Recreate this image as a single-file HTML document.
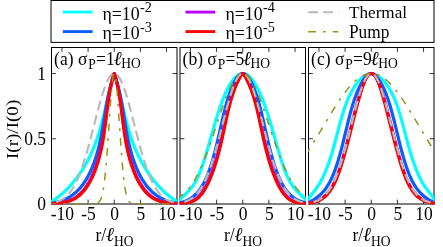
<!DOCTYPE html><html><head><meta charset="utf-8"><title>fig</title><style>html,body{margin:0;padding:0;background:#fff}svg{display:block;will-change:transform}text{font-family:"Liberation Serif",serif;fill:#000}</style></head><body>
<svg width="443" height="247" viewBox="0 0 443 247">
<rect width="443" height="247" fill="#fff"/>
<defs>
<clipPath id="cp0"><rect x="51.00" y="47.00" width="126.50" height="157.50"/></clipPath>
<clipPath id="cp1"><rect x="179.50" y="47.00" width="126.50" height="157.50"/></clipPath>
<clipPath id="cp2"><rect x="308.00" y="47.00" width="126.50" height="157.50"/></clipPath>
</defs>
<rect x="51.50" y="47.50" width="125.50" height="156.50" fill="none" stroke="#000" stroke-width="1.00"/>
<path d="M61.96 204.00v-4.40 M61.96 47.50v4.40 M88.10 204.00v-4.40 M88.10 47.50v4.40 M114.25 204.00v-4.40 M114.25 47.50v4.40 M140.40 204.00v-4.40 M140.40 47.50v4.40 M166.54 204.00v-4.40 M166.54 47.50v4.40 M51.50 138.75h4.40 M177.00 138.75h-4.40 M51.50 73.55h4.40 M177.00 73.55h-4.40 " stroke="#000" stroke-width="0.8" fill="none"/>
<rect x="180.00" y="47.50" width="125.50" height="156.50" fill="none" stroke="#000" stroke-width="1.00"/>
<path d="M190.46 204.00v-4.40 M190.46 47.50v4.40 M216.60 204.00v-4.40 M216.60 47.50v4.40 M242.75 204.00v-4.40 M242.75 47.50v4.40 M268.90 204.00v-4.40 M268.90 47.50v4.40 M295.04 204.00v-4.40 M295.04 47.50v4.40 M180.00 138.75h4.40 M305.50 138.75h-4.40 M180.00 73.55h4.40 M305.50 73.55h-4.40 " stroke="#000" stroke-width="0.8" fill="none"/>
<rect x="308.50" y="47.50" width="125.50" height="156.50" fill="none" stroke="#000" stroke-width="1.00"/>
<path d="M318.96 204.00v-4.40 M318.96 47.50v4.40 M345.10 204.00v-4.40 M345.10 47.50v4.40 M371.25 204.00v-4.40 M371.25 47.50v4.40 M397.40 204.00v-4.40 M397.40 47.50v4.40 M423.54 204.00v-4.40 M423.54 47.50v4.40 M308.50 138.75h4.40 M434.00 138.75h-4.40 M308.50 73.55h4.40 M434.00 73.55h-4.40 " stroke="#000" stroke-width="0.8" fill="none"/>
<g clip-path="url(#cp0)" fill="none" stroke-linejoin="round">
<path d="M40.67,203.80 L40.98,203.78 L41.29,203.77 L41.60,203.75 L41.92,203.73 L42.23,203.71 L42.54,203.69 L42.85,203.67 L43.17,203.64 L43.48,203.61 L43.79,203.58 L44.10,203.55 L44.42,203.52 L44.73,203.48 L45.04,203.44 L45.35,203.39 L45.67,203.34 L45.98,203.29 L46.29,203.24 L46.60,203.18 L46.92,203.11 L47.23,203.04 L47.54,202.97 L47.85,202.89 L48.17,202.81 L48.48,202.72 L48.79,202.62 L49.10,202.51 L49.42,202.40 L49.73,202.28 L50.04,202.16 L50.35,202.02 L50.67,201.88 L50.98,201.73 L51.29,201.56 L51.60,201.39 L51.91,201.20 L52.24,201.01 L52.59,200.80 L52.95,200.58 L53.33,200.34 L53.73,200.09 L54.14,199.83 L54.57,199.55 L55.01,199.26 L55.47,198.95 L55.95,198.62 L56.44,198.28 L56.95,197.91 L57.47,197.53 L58.01,197.13 L58.57,196.70 L59.14,196.26 L59.72,195.79 L60.33,195.30 L60.94,194.78 L61.57,194.24 L62.22,193.68 L62.88,193.09 L63.56,192.47 L64.25,191.82 L64.96,191.15 L65.68,190.45 L66.42,189.71 L67.17,188.95 L67.93,188.16 L68.71,187.33 L69.51,186.47 L70.32,185.58 L71.14,184.66 L71.97,183.70 L72.82,182.71 L73.68,181.68 L74.54,180.62 L75.42,179.52 L76.30,178.38 L77.19,177.22 L78.08,176.01 L78.97,174.77 L79.87,173.49 L80.77,172.17 L81.66,170.82 L82.56,169.44 L83.45,168.01 L84.34,166.56 L85.22,165.07 L86.09,163.54 L86.96,161.98 L87.82,160.38 L88.67,158.76 L89.50,157.10 L90.33,155.41 L91.14,153.69 L91.93,151.95 L92.71,150.18 L93.47,148.38 L94.21,146.55 L94.93,144.71 L95.63,142.84 L96.32,140.95 L96.98,139.05 L97.62,137.13 L98.25,135.19 L98.86,133.24 L99.45,131.29 L100.02,129.32 L100.58,127.35 L101.13,125.38 L101.66,123.41 L102.17,121.43 L102.67,119.47 L103.16,117.51 L103.64,115.55 L104.10,113.62 L104.55,111.69 L105.00,109.79 L105.43,107.90 L105.85,106.04 L106.26,104.20 L106.67,102.39 L106.86,101.54 L107.05,100.69 L107.23,99.85 L107.42,99.01 L107.61,98.19 L107.79,97.37 L107.97,96.57 L108.15,95.77 L108.33,94.98 L108.50,94.20 L108.68,93.44 L108.85,92.68 L109.02,91.93 L109.19,91.20 L109.36,90.48 L109.53,89.77 L109.69,89.07 L109.85,88.38 L110.01,87.71 L110.17,87.04 L110.32,86.40 L110.48,85.76 L110.63,85.14 L110.78,84.53 L110.93,83.94 L111.07,83.36 L111.21,82.80 L111.35,82.25 L111.49,81.71 L111.62,81.19 L111.76,80.69 L111.89,80.20 L112.01,79.73 L112.14,79.27 L112.26,78.83 L112.38,78.41 L112.49,78.00 L112.61,77.62 L112.72,77.24 L112.82,76.89 L112.93,76.55 L113.03,76.23 L113.13,75.93 L113.22,75.64 L113.32,75.37 L113.40,75.12 L113.49,74.89 L113.57,74.68 L113.65,74.48 L113.73,74.31 L113.80,74.15 L113.87,74.01 L113.93,73.89 L114.00,73.78 L114.05,73.70 L114.11,73.63 L114.16,73.59 L114.21,73.56 L114.25,73.55 L114.29,73.56 L114.34,73.59 L114.39,73.63 L114.45,73.70 L114.50,73.78 L114.57,73.89 L114.63,74.01 L114.70,74.15 L114.77,74.31 L114.85,74.48 L114.93,74.68 L115.01,74.89 L115.10,75.12 L115.18,75.37 L115.28,75.64 L115.37,75.93 L115.47,76.23 L115.57,76.55 L115.68,76.89 L115.78,77.24 L115.89,77.62 L116.01,78.00 L116.12,78.41 L116.24,78.83 L116.36,79.27 L116.49,79.73 L116.61,80.20 L116.74,80.69 L116.88,81.19 L117.01,81.71 L117.15,82.25 L117.29,82.80 L117.43,83.36 L117.57,83.94 L117.72,84.53 L117.87,85.14 L118.02,85.76 L118.18,86.40 L118.33,87.04 L118.49,87.71 L118.65,88.38 L118.81,89.07 L118.97,89.77 L119.14,90.48 L119.31,91.20 L119.48,91.93 L119.65,92.68 L119.82,93.44 L120.00,94.20 L120.17,94.98 L120.35,95.77 L120.53,96.57 L120.71,97.37 L120.89,98.19 L121.08,99.01 L121.27,99.85 L121.45,100.69 L121.64,101.54 L121.83,102.39 L122.24,104.20 L122.65,106.04 L123.07,107.90 L123.50,109.79 L123.95,111.69 L124.40,113.62 L124.86,115.55 L125.34,117.51 L125.83,119.47 L126.33,121.43 L126.84,123.41 L127.37,125.38 L127.92,127.35 L128.48,129.32 L129.05,131.29 L129.64,133.24 L130.25,135.19 L130.88,137.13 L131.52,139.05 L132.18,140.95 L132.87,142.84 L133.57,144.71 L134.29,146.55 L135.03,148.38 L135.79,150.18 L136.57,151.95 L137.36,153.69 L138.17,155.41 L139.00,157.10 L139.83,158.76 L140.68,160.38 L141.54,161.98 L142.41,163.54 L143.28,165.07 L144.16,166.56 L145.05,168.01 L145.94,169.44 L146.84,170.82 L147.73,172.17 L148.63,173.49 L149.53,174.77 L150.42,176.01 L151.31,177.22 L152.20,178.38 L153.08,179.52 L153.96,180.62 L154.82,181.68 L155.68,182.71 L156.53,183.70 L157.36,184.66 L158.18,185.58 L158.99,186.47 L159.79,187.33 L160.57,188.16 L161.33,188.95 L162.08,189.71 L162.82,190.45 L163.54,191.15 L164.25,191.82 L164.94,192.47 L165.62,193.09 L166.28,193.68 L166.93,194.24 L167.56,194.78 L168.17,195.30 L168.78,195.79 L169.36,196.26 L169.93,196.70 L170.49,197.13 L171.03,197.53 L171.55,197.91 L172.06,198.28 L172.55,198.62 L173.03,198.95 L173.49,199.26 L173.93,199.55 L174.36,199.83 L174.77,200.09 L175.17,200.34 L175.55,200.58 L175.91,200.80 L176.26,201.01 L176.59,201.20 L176.90,201.39 L177.21,201.56 L177.52,201.73 L177.83,201.88 L178.15,202.02 L178.46,202.16 L178.77,202.28 L179.08,202.40 L179.40,202.51 L179.71,202.62 L180.02,202.72 L180.33,202.81 L180.65,202.89 L180.96,202.97 L181.27,203.04 L181.58,203.11 L181.90,203.18 L182.21,203.24 L182.52,203.29 L182.83,203.34 L183.15,203.39 L183.46,203.44 L183.77,203.48 L184.08,203.52 L184.40,203.55 L184.71,203.58 L185.02,203.61 L185.33,203.64 L185.65,203.67 L185.96,203.69 L186.27,203.71 L186.58,203.73 L186.90,203.75 L187.21,203.77 L187.52,203.78 L187.83,203.80" stroke="#00ffff" stroke-width="3.2"/>
<path d="M46.26,203.80 L46.58,203.78 L46.89,203.77 L47.21,203.75 L47.52,203.73 L47.83,203.71 L48.15,203.69 L48.46,203.67 L48.78,203.64 L49.09,203.61 L49.40,203.58 L49.72,203.55 L50.03,203.52 L50.35,203.48 L50.66,203.44 L50.97,203.39 L51.29,203.34 L51.60,203.29 L51.91,203.24 L52.23,203.18 L52.57,203.11 L52.93,203.04 L53.31,202.97 L53.71,202.89 L54.12,202.81 L54.55,202.72 L54.99,202.62 L55.45,202.51 L55.93,202.40 L56.42,202.28 L56.92,202.16 L57.44,202.02 L57.97,201.88 L58.51,201.73 L59.07,201.56 L59.64,201.39 L60.22,201.20 L60.81,201.01 L61.41,200.80 L62.02,200.58 L62.64,200.34 L63.27,200.09 L63.90,199.83 L64.55,199.55 L65.20,199.26 L65.86,198.95 L66.53,198.62 L67.21,198.28 L67.89,197.91 L68.57,197.53 L69.26,197.13 L69.96,196.70 L70.66,196.26 L71.36,195.79 L72.07,195.30 L72.78,194.78 L73.49,194.24 L74.20,193.68 L74.92,193.09 L75.63,192.47 L76.35,191.82 L77.07,191.15 L77.78,190.45 L78.50,189.71 L79.21,188.95 L79.93,188.16 L80.64,187.33 L81.34,186.47 L82.05,185.58 L82.75,184.66 L83.45,183.70 L84.14,182.71 L84.83,181.68 L85.51,180.62 L86.19,179.52 L86.86,178.38 L87.52,177.22 L88.18,176.01 L88.83,174.77 L89.48,173.49 L90.11,172.17 L90.74,170.82 L91.36,169.44 L91.97,168.01 L92.57,166.56 L93.16,165.07 L93.74,163.54 L94.31,161.98 L94.87,160.38 L95.41,158.76 L95.95,157.10 L96.47,155.41 L96.98,153.69 L97.48,151.95 L97.96,150.18 L98.43,148.38 L98.89,146.55 L99.33,144.71 L99.76,142.84 L100.17,140.95 L100.57,139.05 L100.96,137.13 L101.34,135.19 L101.71,133.24 L102.07,131.29 L102.42,129.32 L102.76,127.35 L103.10,125.38 L103.44,123.41 L103.76,121.43 L104.09,119.47 L104.41,117.51 L104.73,115.55 L105.05,113.62 L105.36,111.69 L105.68,109.79 L106.00,107.90 L106.32,106.04 L106.65,104.20 L106.98,102.39 L107.14,101.54 L107.30,100.69 L107.46,99.85 L107.63,99.01 L107.79,98.19 L107.96,97.37 L108.13,96.57 L108.30,95.77 L108.47,94.98 L108.64,94.20 L108.81,93.44 L108.99,92.68 L109.16,91.93 L109.34,91.20 L109.51,90.48 L109.69,89.77 L109.86,89.07 L110.03,88.38 L110.21,87.71 L110.38,87.04 L110.55,86.40 L110.72,85.76 L110.89,85.14 L111.06,84.53 L111.22,83.94 L111.38,83.36 L111.54,82.80 L111.70,82.25 L111.86,81.71 L112.01,81.19 L112.16,80.69 L112.30,80.20 L112.44,79.73 L112.58,79.27 L112.72,78.83 L112.85,78.41 L112.97,78.00 L113.09,77.62 L113.21,77.24 L113.32,76.89 L113.43,76.55 L113.53,76.23 L113.63,75.93 L113.72,75.64 L113.80,75.37 L113.88,75.12 L113.95,74.89 L114.02,74.68 L114.08,74.48 L114.13,74.31 L114.17,74.15 L114.21,74.01 L114.24,73.89 L114.25,73.78 L114.25,73.70 L114.25,73.63 L114.25,73.59 L114.25,73.56 L114.25,73.55 L114.25,73.56 L114.25,73.59 L114.25,73.63 L114.25,73.70 L114.25,73.78 L114.26,73.89 L114.29,74.01 L114.33,74.15 L114.37,74.31 L114.42,74.48 L114.48,74.68 L114.55,74.89 L114.62,75.12 L114.70,75.37 L114.78,75.64 L114.87,75.93 L114.97,76.23 L115.07,76.55 L115.18,76.89 L115.29,77.24 L115.41,77.62 L115.53,78.00 L115.65,78.41 L115.78,78.83 L115.92,79.27 L116.06,79.73 L116.20,80.20 L116.34,80.69 L116.49,81.19 L116.64,81.71 L116.80,82.25 L116.96,82.80 L117.12,83.36 L117.28,83.94 L117.44,84.53 L117.61,85.14 L117.78,85.76 L117.95,86.40 L118.12,87.04 L118.29,87.71 L118.47,88.38 L118.64,89.07 L118.81,89.77 L118.99,90.48 L119.16,91.20 L119.34,91.93 L119.51,92.68 L119.69,93.44 L119.86,94.20 L120.03,94.98 L120.20,95.77 L120.37,96.57 L120.54,97.37 L120.71,98.19 L120.87,99.01 L121.04,99.85 L121.20,100.69 L121.36,101.54 L121.52,102.39 L121.85,104.20 L122.18,106.04 L122.50,107.90 L122.82,109.79 L123.14,111.69 L123.45,113.62 L123.77,115.55 L124.09,117.51 L124.41,119.47 L124.74,121.43 L125.06,123.41 L125.40,125.38 L125.74,127.35 L126.08,129.32 L126.43,131.29 L126.79,133.24 L127.16,135.19 L127.54,137.13 L127.93,139.05 L128.33,140.95 L128.74,142.84 L129.17,144.71 L129.61,146.55 L130.07,148.38 L130.54,150.18 L131.02,151.95 L131.52,153.69 L132.03,155.41 L132.55,157.10 L133.09,158.76 L133.63,160.38 L134.19,161.98 L134.76,163.54 L135.34,165.07 L135.93,166.56 L136.53,168.01 L137.14,169.44 L137.76,170.82 L138.39,172.17 L139.02,173.49 L139.67,174.77 L140.32,176.01 L140.98,177.22 L141.64,178.38 L142.31,179.52 L142.99,180.62 L143.67,181.68 L144.36,182.71 L145.05,183.70 L145.75,184.66 L146.45,185.58 L147.16,186.47 L147.86,187.33 L148.57,188.16 L149.29,188.95 L150.00,189.71 L150.72,190.45 L151.43,191.15 L152.15,191.82 L152.87,192.47 L153.58,193.09 L154.30,193.68 L155.01,194.24 L155.72,194.78 L156.43,195.30 L157.14,195.79 L157.84,196.26 L158.54,196.70 L159.24,197.13 L159.93,197.53 L160.61,197.91 L161.29,198.28 L161.97,198.62 L162.64,198.95 L163.30,199.26 L163.95,199.55 L164.60,199.83 L165.23,200.09 L165.86,200.34 L166.48,200.58 L167.09,200.80 L167.69,201.01 L168.28,201.20 L168.86,201.39 L169.43,201.56 L169.99,201.73 L170.53,201.88 L171.06,202.02 L171.58,202.16 L172.08,202.28 L172.57,202.40 L173.05,202.51 L173.51,202.62 L173.95,202.72 L174.38,202.81 L174.79,202.89 L175.19,202.97 L175.57,203.04 L175.93,203.11 L176.27,203.18 L176.59,203.24 L176.90,203.29 L177.21,203.34 L177.53,203.39 L177.84,203.44 L178.15,203.48 L178.47,203.52 L178.78,203.55 L179.10,203.58 L179.41,203.61 L179.72,203.64 L180.04,203.67 L180.35,203.69 L180.67,203.71 L180.98,203.73 L181.29,203.75 L181.61,203.77 L181.92,203.78 L182.24,203.80" stroke="#0a5cff" stroke-width="3.2"/>
<path d="M47.82,203.80 L48.35,203.78 L48.87,203.77 L49.40,203.75 L49.92,203.73 L50.45,203.71 L50.97,203.69 L51.50,203.67 L52.02,203.64 L52.55,203.61 L53.08,203.58 L53.61,203.55 L54.14,203.52 L54.67,203.48 L55.20,203.44 L55.74,203.39 L56.27,203.34 L56.81,203.29 L57.34,203.24 L57.88,203.18 L58.43,203.11 L58.98,203.04 L59.53,202.97 L60.08,202.89 L60.64,202.81 L61.20,202.72 L61.76,202.62 L62.33,202.51 L62.90,202.40 L63.47,202.28 L64.04,202.16 L64.62,202.02 L65.20,201.88 L65.78,201.73 L66.37,201.56 L66.96,201.39 L67.54,201.20 L68.13,201.01 L68.73,200.80 L69.32,200.58 L69.92,200.34 L70.51,200.09 L71.11,199.83 L71.71,199.55 L72.31,199.26 L72.92,198.95 L73.52,198.62 L74.12,198.28 L74.73,197.91 L75.34,197.53 L75.94,197.13 L76.55,196.70 L77.15,196.26 L77.76,195.79 L78.37,195.30 L78.98,194.78 L79.58,194.24 L80.19,193.68 L80.80,193.09 L81.40,192.47 L82.01,191.82 L82.62,191.15 L83.22,190.45 L83.82,189.71 L84.43,188.95 L85.03,188.16 L85.63,187.33 L86.23,186.47 L86.83,185.58 L87.42,184.66 L88.02,183.70 L88.61,182.71 L89.20,181.68 L89.79,180.62 L90.37,179.52 L90.95,178.38 L91.52,177.22 L92.09,176.01 L92.65,174.77 L93.21,173.49 L93.76,172.17 L94.31,170.82 L94.84,169.44 L95.37,168.01 L95.89,166.56 L96.41,165.07 L96.91,163.54 L97.40,161.98 L97.89,160.38 L98.36,158.76 L98.82,157.10 L99.27,155.41 L99.71,153.69 L100.14,151.95 L100.55,150.18 L100.95,148.38 L101.34,146.55 L101.72,144.71 L102.08,142.84 L102.42,140.95 L102.76,139.05 L103.08,137.13 L103.40,135.19 L103.70,133.24 L104.00,131.29 L104.28,129.32 L104.56,127.35 L104.84,125.38 L105.11,123.41 L105.37,121.43 L105.63,119.47 L105.88,117.51 L106.14,115.55 L106.39,113.62 L106.64,111.69 L106.90,109.79 L107.15,107.90 L107.40,106.04 L107.66,104.20 L107.92,102.39 L108.05,101.54 L108.17,100.69 L108.30,99.85 L108.43,99.01 L108.56,98.19 L108.70,97.37 L108.83,96.57 L108.97,95.77 L109.10,94.98 L109.24,94.20 L109.38,93.44 L109.52,92.68 L109.66,91.93 L109.80,91.20 L109.94,90.48 L110.08,89.77 L110.22,89.07 L110.36,88.38 L110.50,87.71 L110.64,87.04 L110.78,86.40 L110.92,85.76 L111.06,85.14 L111.20,84.53 L111.33,83.94 L111.47,83.36 L111.60,82.80 L111.73,82.25 L111.86,81.71 L111.99,81.19 L112.12,80.69 L112.24,80.20 L112.36,79.73 L112.48,79.27 L112.60,78.83 L112.71,78.41 L112.82,78.00 L112.93,77.62 L113.03,77.24 L113.14,76.89 L113.23,76.55 L113.33,76.23 L113.42,75.93 L113.51,75.64 L113.59,75.37 L113.67,75.12 L113.74,74.89 L113.81,74.68 L113.88,74.48 L113.94,74.31 L114.00,74.15 L114.05,74.01 L114.09,73.89 L114.13,73.78 L114.16,73.70 L114.19,73.63 L114.22,73.59 L114.23,73.56 L114.25,73.55 L114.27,73.56 L114.28,73.59 L114.31,73.63 L114.34,73.70 L114.37,73.78 L114.41,73.89 L114.45,74.01 L114.50,74.15 L114.56,74.31 L114.62,74.48 L114.69,74.68 L114.76,74.89 L114.83,75.12 L114.91,75.37 L114.99,75.64 L115.08,75.93 L115.17,76.23 L115.27,76.55 L115.36,76.89 L115.47,77.24 L115.57,77.62 L115.68,78.00 L115.79,78.41 L115.90,78.83 L116.02,79.27 L116.14,79.73 L116.26,80.20 L116.38,80.69 L116.51,81.19 L116.64,81.71 L116.77,82.25 L116.90,82.80 L117.03,83.36 L117.17,83.94 L117.30,84.53 L117.44,85.14 L117.58,85.76 L117.72,86.40 L117.86,87.04 L118.00,87.71 L118.14,88.38 L118.28,89.07 L118.42,89.77 L118.56,90.48 L118.70,91.20 L118.84,91.93 L118.98,92.68 L119.12,93.44 L119.26,94.20 L119.40,94.98 L119.53,95.77 L119.67,96.57 L119.80,97.37 L119.94,98.19 L120.07,99.01 L120.20,99.85 L120.33,100.69 L120.45,101.54 L120.58,102.39 L120.84,104.20 L121.10,106.04 L121.35,107.90 L121.60,109.79 L121.86,111.69 L122.11,113.62 L122.36,115.55 L122.62,117.51 L122.87,119.47 L123.13,121.43 L123.39,123.41 L123.66,125.38 L123.94,127.35 L124.22,129.32 L124.50,131.29 L124.80,133.24 L125.10,135.19 L125.42,137.13 L125.74,139.05 L126.08,140.95 L126.42,142.84 L126.78,144.71 L127.16,146.55 L127.55,148.38 L127.95,150.18 L128.36,151.95 L128.79,153.69 L129.23,155.41 L129.68,157.10 L130.14,158.76 L130.61,160.38 L131.10,161.98 L131.59,163.54 L132.09,165.07 L132.61,166.56 L133.13,168.01 L133.66,169.44 L134.19,170.82 L134.74,172.17 L135.29,173.49 L135.85,174.77 L136.41,176.01 L136.98,177.22 L137.55,178.38 L138.13,179.52 L138.71,180.62 L139.30,181.68 L139.89,182.71 L140.48,183.70 L141.08,184.66 L141.67,185.58 L142.27,186.47 L142.87,187.33 L143.47,188.16 L144.07,188.95 L144.68,189.71 L145.28,190.45 L145.88,191.15 L146.49,191.82 L147.10,192.47 L147.70,193.09 L148.31,193.68 L148.92,194.24 L149.52,194.78 L150.13,195.30 L150.74,195.79 L151.35,196.26 L151.95,196.70 L152.56,197.13 L153.16,197.53 L153.77,197.91 L154.38,198.28 L154.98,198.62 L155.58,198.95 L156.19,199.26 L156.79,199.55 L157.39,199.83 L157.99,200.09 L158.58,200.34 L159.18,200.58 L159.77,200.80 L160.37,201.01 L160.96,201.20 L161.54,201.39 L162.13,201.56 L162.72,201.73 L163.30,201.88 L163.88,202.02 L164.46,202.16 L165.03,202.28 L165.60,202.40 L166.17,202.51 L166.74,202.62 L167.30,202.72 L167.86,202.81 L168.42,202.89 L168.97,202.97 L169.52,203.04 L170.07,203.11 L170.62,203.18 L171.16,203.24 L171.69,203.29 L172.23,203.34 L172.76,203.39 L173.30,203.44 L173.83,203.48 L174.36,203.52 L174.89,203.55 L175.42,203.58 L175.95,203.61 L176.48,203.64 L177.00,203.67 L177.53,203.69 L178.05,203.71 L178.58,203.73 L179.10,203.75 L179.63,203.77 L180.15,203.78 L180.68,203.80" stroke="#b800ff" stroke-width="3.2"/>
<path d="M48.10,203.80 L48.66,203.78 L49.22,203.77 L49.79,203.75 L50.35,203.73 L50.91,203.71 L51.47,203.69 L52.03,203.67 L52.60,203.64 L53.16,203.61 L53.73,203.58 L54.29,203.55 L54.86,203.52 L55.43,203.48 L56.01,203.44 L56.58,203.39 L57.15,203.34 L57.73,203.29 L58.30,203.24 L58.88,203.18 L59.46,203.11 L60.04,203.04 L60.62,202.97 L61.20,202.89 L61.79,202.81 L62.37,202.72 L62.96,202.62 L63.54,202.51 L64.13,202.40 L64.71,202.28 L65.30,202.16 L65.89,202.02 L66.48,201.88 L67.07,201.73 L67.66,201.56 L68.25,201.39 L68.84,201.20 L69.43,201.01 L70.02,200.80 L70.61,200.58 L71.20,200.34 L71.79,200.09 L72.39,199.83 L72.98,199.55 L73.57,199.26 L74.16,198.95 L74.75,198.62 L75.35,198.28 L75.94,197.91 L76.53,197.53 L77.12,197.13 L77.71,196.70 L78.30,196.26 L78.89,195.79 L79.48,195.30 L80.07,194.78 L80.66,194.24 L81.25,193.68 L81.84,193.09 L82.42,192.47 L83.01,191.82 L83.59,191.15 L84.18,190.45 L84.76,189.71 L85.35,188.95 L85.93,188.16 L86.51,187.33 L87.09,186.47 L87.67,185.58 L88.25,184.66 L88.83,183.70 L89.40,182.71 L89.97,181.68 L90.54,180.62 L91.11,179.52 L91.67,178.38 L92.23,177.22 L92.78,176.01 L93.33,174.77 L93.87,173.49 L94.41,172.17 L94.94,170.82 L95.46,169.44 L95.97,168.01 L96.48,166.56 L96.98,165.07 L97.47,163.54 L97.95,161.98 L98.42,160.38 L98.88,158.76 L99.33,157.10 L99.77,155.41 L100.19,153.69 L100.61,151.95 L101.01,150.18 L101.40,148.38 L101.78,146.55 L102.14,144.71 L102.49,142.84 L102.82,140.95 L103.14,139.05 L103.46,137.13 L103.76,135.19 L104.05,133.24 L104.34,131.29 L104.61,129.32 L104.88,127.35 L105.14,125.38 L105.40,123.41 L105.65,121.43 L105.90,119.47 L106.15,117.51 L106.39,115.55 L106.63,113.62 L106.87,111.69 L107.11,109.79 L107.35,107.90 L107.59,106.04 L107.84,104.20 L108.09,102.39 L108.21,101.54 L108.33,100.69 L108.45,99.85 L108.58,99.01 L108.70,98.19 L108.83,97.37 L108.96,96.57 L109.08,95.77 L109.22,94.98 L109.35,94.20 L109.48,93.44 L109.61,92.68 L109.75,91.93 L109.88,91.20 L110.02,90.48 L110.15,89.77 L110.28,89.07 L110.42,88.38 L110.55,87.71 L110.69,87.04 L110.82,86.40 L110.96,85.76 L111.09,85.14 L111.22,84.53 L111.35,83.94 L111.48,83.36 L111.61,82.80 L111.74,82.25 L111.86,81.71 L111.99,81.19 L112.11,80.69 L112.23,80.20 L112.35,79.73 L112.46,79.27 L112.58,78.83 L112.69,78.41 L112.79,78.00 L112.90,77.62 L113.00,77.24 L113.10,76.89 L113.20,76.55 L113.29,76.23 L113.38,75.93 L113.47,75.64 L113.55,75.37 L113.63,75.12 L113.71,74.89 L113.78,74.68 L113.84,74.48 L113.91,74.31 L113.96,74.15 L114.02,74.01 L114.07,73.89 L114.11,73.78 L114.15,73.70 L114.18,73.63 L114.21,73.59 L114.23,73.56 L114.25,73.55 L114.27,73.56 L114.29,73.59 L114.32,73.63 L114.35,73.70 L114.39,73.78 L114.43,73.89 L114.48,74.01 L114.54,74.15 L114.59,74.31 L114.66,74.48 L114.72,74.68 L114.79,74.89 L114.87,75.12 L114.95,75.37 L115.03,75.64 L115.12,75.93 L115.21,76.23 L115.30,76.55 L115.40,76.89 L115.50,77.24 L115.60,77.62 L115.71,78.00 L115.81,78.41 L115.92,78.83 L116.04,79.27 L116.15,79.73 L116.27,80.20 L116.39,80.69 L116.51,81.19 L116.64,81.71 L116.76,82.25 L116.89,82.80 L117.02,83.36 L117.15,83.94 L117.28,84.53 L117.41,85.14 L117.54,85.76 L117.68,86.40 L117.81,87.04 L117.95,87.71 L118.08,88.38 L118.22,89.07 L118.35,89.77 L118.48,90.48 L118.62,91.20 L118.75,91.93 L118.89,92.68 L119.02,93.44 L119.15,94.20 L119.28,94.98 L119.42,95.77 L119.54,96.57 L119.67,97.37 L119.80,98.19 L119.92,99.01 L120.05,99.85 L120.17,100.69 L120.29,101.54 L120.41,102.39 L120.66,104.20 L120.91,106.04 L121.15,107.90 L121.39,109.79 L121.63,111.69 L121.87,113.62 L122.11,115.55 L122.35,117.51 L122.60,119.47 L122.85,121.43 L123.10,123.41 L123.36,125.38 L123.62,127.35 L123.89,129.32 L124.16,131.29 L124.45,133.24 L124.74,135.19 L125.04,137.13 L125.36,139.05 L125.68,140.95 L126.01,142.84 L126.36,144.71 L126.72,146.55 L127.10,148.38 L127.49,150.18 L127.89,151.95 L128.31,153.69 L128.73,155.41 L129.17,157.10 L129.62,158.76 L130.08,160.38 L130.55,161.98 L131.03,163.54 L131.52,165.07 L132.02,166.56 L132.53,168.01 L133.04,169.44 L133.56,170.82 L134.09,172.17 L134.63,173.49 L135.17,174.77 L135.72,176.01 L136.27,177.22 L136.83,178.38 L137.39,179.52 L137.96,180.62 L138.53,181.68 L139.10,182.71 L139.67,183.70 L140.25,184.66 L140.83,185.58 L141.41,186.47 L141.99,187.33 L142.57,188.16 L143.15,188.95 L143.74,189.71 L144.32,190.45 L144.91,191.15 L145.49,191.82 L146.08,192.47 L146.66,193.09 L147.25,193.68 L147.84,194.24 L148.43,194.78 L149.02,195.30 L149.61,195.79 L150.20,196.26 L150.79,196.70 L151.38,197.13 L151.97,197.53 L152.56,197.91 L153.15,198.28 L153.75,198.62 L154.34,198.95 L154.93,199.26 L155.52,199.55 L156.11,199.83 L156.71,200.09 L157.30,200.34 L157.89,200.58 L158.48,200.80 L159.07,201.01 L159.66,201.20 L160.25,201.39 L160.84,201.56 L161.43,201.73 L162.02,201.88 L162.61,202.02 L163.20,202.16 L163.79,202.28 L164.37,202.40 L164.96,202.51 L165.54,202.62 L166.13,202.72 L166.71,202.81 L167.30,202.89 L167.88,202.97 L168.46,203.04 L169.04,203.11 L169.62,203.18 L170.20,203.24 L170.77,203.29 L171.35,203.34 L171.92,203.39 L172.49,203.44 L173.07,203.48 L173.64,203.52 L174.21,203.55 L174.77,203.58 L175.34,203.61 L175.90,203.64 L176.47,203.67 L177.03,203.69 L177.59,203.71 L178.15,203.73 L178.71,203.75 L179.28,203.77 L179.84,203.78 L180.40,203.80" stroke="#ff0000" stroke-width="3.2"/>
<path d="M48.36,203.33 L49.15,203.25 L49.93,203.16 L50.72,203.05 L51.50,202.94 L52.28,202.81 L53.07,202.66 L53.85,202.50 L54.64,202.32 L55.42,202.13 L56.21,201.91 L56.99,201.67 L57.77,201.40 L58.56,201.11 L59.34,200.79 L60.13,200.43 L60.91,200.05 L61.70,199.63 L62.48,199.17 L63.27,198.67 L64.05,198.13 L64.83,197.54 L65.62,196.90 L66.40,196.21 L67.19,195.47 L67.97,194.66 L68.76,193.80 L69.54,192.88 L70.33,191.88 L71.11,190.82 L71.89,189.69 L72.68,188.48 L73.46,187.20 L74.25,185.84 L75.03,184.40 L75.82,182.87 L76.60,181.26 L77.38,179.56 L78.17,177.78 L78.95,175.91 L79.74,173.95 L80.52,171.90 L81.31,169.77 L82.09,167.54 L82.88,165.23 L83.66,162.84 L84.44,160.37 L85.23,157.82 L86.01,155.19 L86.80,152.49 L87.58,149.72 L88.37,146.89 L89.15,144.01 L89.93,141.07 L90.72,138.09 L91.50,135.07 L92.29,132.03 L93.07,128.96 L93.86,125.89 L94.64,122.80 L95.42,119.73 L96.21,116.67 L96.99,113.64 L97.78,110.64 L98.56,107.69 L99.35,104.80 L100.13,101.98 L100.92,99.23 L101.70,96.58 L102.48,94.02 L103.27,91.57 L104.05,89.25 L104.84,87.05 L105.62,84.99 L106.41,83.08 L107.19,81.33 L107.98,79.73 L108.76,78.31 L109.54,77.06 L110.33,76.00 L111.11,75.12 L111.90,74.44 L112.68,73.95 L113.47,73.65 L114.25,73.55 L115.03,73.65 L115.82,73.95 L116.60,74.44 L117.39,75.12 L118.17,76.00 L118.96,77.06 L119.74,78.31 L120.52,79.73 L121.31,81.33 L122.09,83.08 L122.88,84.99 L123.66,87.05 L124.45,89.25 L125.23,91.57 L126.02,94.02 L126.80,96.58 L127.58,99.23 L128.37,101.98 L129.15,104.80 L129.94,107.69 L130.72,110.64 L131.51,113.64 L132.29,116.67 L133.07,119.73 L133.86,122.80 L134.64,125.89 L135.43,128.96 L136.21,132.03 L137.00,135.07 L137.78,138.09 L138.57,141.07 L139.35,144.01 L140.13,146.89 L140.92,149.72 L141.70,152.49 L142.49,155.19 L143.27,157.82 L144.06,160.37 L144.84,162.84 L145.62,165.23 L146.41,167.54 L147.19,169.77 L147.98,171.90 L148.76,173.95 L149.55,175.91 L150.33,177.78 L151.12,179.56 L151.90,181.26 L152.68,182.87 L153.47,184.40 L154.25,185.84 L155.04,187.20 L155.82,188.48 L156.61,189.69 L157.39,190.82 L158.18,191.88 L158.96,192.88 L159.74,193.80 L160.53,194.66 L161.31,195.47 L162.10,196.21 L162.88,196.90 L163.67,197.54 L164.45,198.13 L165.23,198.67 L166.02,199.17 L166.80,199.63 L167.59,200.05 L168.37,200.43 L169.16,200.79 L169.94,201.11 L170.72,201.40 L171.51,201.67 L172.29,201.91 L173.08,202.13 L173.86,202.32 L174.65,202.50 L175.43,202.66 L176.22,202.81 L177.00,202.94 L177.78,203.05 L178.57,203.16 L179.35,203.25 L180.14,203.33" stroke="#b9b9b9" stroke-width="2.2" stroke-dasharray="9.9 5" stroke-dashoffset="7.01"/>
<path d="M48.36,203.95 L49.15,203.95 L49.93,203.95 L50.72,203.95 L51.50,203.95 L52.28,203.95 L53.07,203.95 L53.85,203.95 L54.64,203.95 L55.42,203.95 L56.21,203.95 L56.99,203.95 L57.77,203.95 L58.56,203.95 L59.34,203.95 L60.13,203.95 L60.91,203.95 L61.70,203.95 L62.48,203.95 L63.27,203.95 L64.05,203.95 L64.83,203.95 L65.62,203.95 L66.40,203.95 L67.19,203.95 L67.97,203.95 L68.76,203.95 L69.54,203.95 L70.33,203.95 L71.11,203.95 L71.89,203.95 L72.68,203.95 L73.46,203.95 L74.25,203.95 L75.03,203.95 L75.82,203.95 L76.60,203.95 L77.38,203.95 L78.17,203.95 L78.95,203.95 L79.74,203.95 L80.52,203.95 L81.31,203.95 L82.09,203.95 L82.88,203.95 L83.66,203.95 L84.44,203.95 L85.23,203.95 L86.01,203.95 L86.80,203.95 L87.58,203.95 L88.37,203.95 L89.15,203.95 L89.93,203.95 L90.72,203.94 L91.50,203.94 L92.29,203.93 L93.07,203.91 L93.86,203.89 L94.64,203.83 L95.42,203.75 L96.21,203.61 L96.99,203.39 L97.78,203.04 L98.56,202.50 L99.35,201.70 L100.13,200.54 L100.92,198.90 L101.70,196.63 L102.48,193.58 L103.27,189.57 L104.05,184.47 L104.84,178.14 L105.62,170.52 L106.41,161.62 L107.19,151.53 L107.98,140.48 L108.76,128.81 L109.54,116.98 L110.33,105.52 L111.11,95.03 L111.90,86.11 L112.68,79.29 L113.47,75.01 L114.25,73.55 L115.03,75.01 L115.82,79.29 L116.60,86.11 L117.39,95.03 L118.17,105.52 L118.96,116.98 L119.74,128.81 L120.52,140.48 L121.31,151.53 L122.09,161.62 L122.88,170.52 L123.66,178.14 L124.45,184.47 L125.23,189.57 L126.02,193.58 L126.80,196.63 L127.58,198.90 L128.37,200.54 L129.15,201.70 L129.94,202.50 L130.72,203.04 L131.51,203.39 L132.29,203.61 L133.07,203.75 L133.86,203.83 L134.64,203.89 L135.43,203.91 L136.21,203.93 L137.00,203.94 L137.78,203.94 L138.57,203.95 L139.35,203.95 L140.13,203.95 L140.92,203.95 L141.70,203.95 L142.49,203.95 L143.27,203.95 L144.06,203.95 L144.84,203.95 L145.62,203.95 L146.41,203.95 L147.19,203.95 L147.98,203.95 L148.76,203.95 L149.55,203.95 L150.33,203.95 L151.12,203.95 L151.90,203.95 L152.68,203.95 L153.47,203.95 L154.25,203.95 L155.04,203.95 L155.82,203.95 L156.61,203.95 L157.39,203.95 L158.18,203.95 L158.96,203.95 L159.74,203.95 L160.53,203.95 L161.31,203.95 L162.10,203.95 L162.88,203.95 L163.67,203.95 L164.45,203.95 L165.23,203.95 L166.02,203.95 L166.80,203.95 L167.59,203.95 L168.37,203.95 L169.16,203.95 L169.94,203.95 L170.72,203.95 L171.51,203.95 L172.29,203.95 L173.08,203.95 L173.86,203.95 L174.65,203.95 L175.43,203.95 L176.22,203.95 L177.00,203.95 L177.78,203.95 L178.57,203.95 L179.35,203.95 L180.14,203.95" stroke="#94941a" stroke-width="1.5" stroke-dasharray="7.7 7.2 2.7 7"/>
</g>
<g clip-path="url(#cp1)" fill="none" stroke-linejoin="round">
<path d="M172.44,203.80 L172.62,203.78 L172.80,203.77 L172.98,203.75 L173.15,203.73 L173.33,203.71 L173.51,203.69 L173.69,203.67 L173.87,203.64 L174.04,203.61 L174.22,203.58 L174.40,203.55 L174.58,203.52 L174.76,203.48 L174.93,203.44 L175.11,203.39 L175.29,203.34 L175.47,203.29 L175.65,203.24 L175.82,203.18 L176.00,203.11 L176.18,203.04 L176.36,202.97 L176.54,202.89 L176.71,202.81 L176.89,202.72 L177.07,202.62 L177.25,202.51 L177.43,202.40 L177.60,202.28 L177.78,202.16 L177.96,202.02 L178.14,201.88 L178.31,201.73 L178.49,201.56 L178.67,201.39 L178.85,201.20 L179.03,201.01 L179.20,200.80 L179.38,200.58 L179.56,200.34 L179.74,200.09 L179.92,199.83 L180.08,199.55 L180.26,199.26 L180.49,198.95 L180.76,198.62 L181.08,198.28 L181.43,197.91 L181.82,197.53 L182.25,197.13 L182.71,196.70 L183.19,196.26 L183.71,195.79 L184.25,195.30 L184.81,194.78 L185.39,194.24 L185.99,193.68 L186.60,193.09 L187.23,192.47 L187.87,191.82 L188.51,191.15 L189.17,190.45 L189.82,189.71 L190.48,188.95 L191.13,188.16 L191.78,187.33 L192.42,186.47 L193.06,185.58 L193.68,184.66 L194.30,183.70 L194.90,182.71 L195.49,181.68 L196.08,180.62 L196.65,179.52 L197.22,178.38 L197.78,177.22 L198.34,176.01 L198.88,174.77 L199.42,173.49 L199.96,172.17 L200.49,170.82 L201.02,169.44 L201.54,168.01 L202.06,166.56 L202.58,165.07 L203.10,163.54 L203.61,161.98 L204.13,160.38 L204.64,158.76 L205.15,157.10 L205.67,155.41 L206.18,153.69 L206.70,151.95 L207.22,150.18 L207.74,148.38 L208.26,146.55 L208.79,144.71 L209.33,142.84 L209.86,140.95 L210.40,139.05 L210.95,137.13 L211.50,135.19 L212.06,133.24 L212.62,131.29 L213.19,129.32 L213.76,127.35 L214.34,125.38 L214.93,123.41 L215.52,121.43 L216.11,119.47 L216.72,117.51 L217.33,115.55 L217.95,113.62 L218.57,111.69 L219.21,109.79 L219.85,107.90 L220.49,106.04 L221.15,104.20 L221.81,102.39 L222.13,101.54 L222.46,100.69 L222.78,99.85 L223.11,99.01 L223.44,98.19 L223.77,97.37 L224.11,96.57 L224.44,95.77 L224.78,94.98 L225.12,94.20 L225.46,93.44 L225.80,92.68 L226.15,91.93 L226.49,91.20 L226.84,90.48 L227.19,89.77 L227.54,89.07 L227.89,88.38 L228.25,87.71 L228.60,87.04 L228.96,86.40 L229.31,85.76 L229.67,85.14 L230.03,84.53 L230.39,83.94 L230.75,83.36 L231.11,82.80 L231.47,82.25 L231.84,81.71 L232.20,81.19 L232.56,80.69 L232.93,80.20 L233.29,79.73 L233.66,79.27 L234.03,78.83 L234.39,78.41 L234.76,78.00 L235.12,77.62 L235.49,77.24 L235.86,76.89 L236.22,76.55 L236.59,76.23 L236.96,75.93 L237.32,75.64 L237.69,75.37 L238.05,75.12 L238.42,74.89 L238.78,74.68 L239.15,74.48 L239.51,74.31 L239.88,74.15 L240.24,74.01 L240.60,73.89 L240.96,73.78 L241.32,73.70 L241.68,73.63 L242.04,73.59 L242.39,73.56 L242.75,73.55 L243.11,73.56 L243.46,73.59 L243.82,73.63 L244.18,73.70 L244.54,73.78 L244.90,73.89 L245.26,74.01 L245.62,74.15 L245.99,74.31 L246.35,74.48 L246.72,74.68 L247.08,74.89 L247.45,75.12 L247.81,75.37 L248.18,75.64 L248.54,75.93 L248.91,76.23 L249.28,76.55 L249.64,76.89 L250.01,77.24 L250.38,77.62 L250.74,78.00 L251.11,78.41 L251.47,78.83 L251.84,79.27 L252.21,79.73 L252.57,80.20 L252.94,80.69 L253.30,81.19 L253.66,81.71 L254.03,82.25 L254.39,82.80 L254.75,83.36 L255.11,83.94 L255.47,84.53 L255.83,85.14 L256.19,85.76 L256.54,86.40 L256.90,87.04 L257.25,87.71 L257.61,88.38 L257.96,89.07 L258.31,89.77 L258.66,90.48 L259.01,91.20 L259.35,91.93 L259.70,92.68 L260.04,93.44 L260.38,94.20 L260.72,94.98 L261.06,95.77 L261.39,96.57 L261.73,97.37 L262.06,98.19 L262.39,99.01 L262.72,99.85 L263.04,100.69 L263.37,101.54 L263.69,102.39 L264.35,104.20 L265.01,106.04 L265.65,107.90 L266.29,109.79 L266.93,111.69 L267.55,113.62 L268.17,115.55 L268.78,117.51 L269.39,119.47 L269.98,121.43 L270.57,123.41 L271.16,125.38 L271.74,127.35 L272.31,129.32 L272.88,131.29 L273.44,133.24 L274.00,135.19 L274.55,137.13 L275.10,139.05 L275.64,140.95 L276.17,142.84 L276.71,144.71 L277.24,146.55 L277.76,148.38 L278.28,150.18 L278.80,151.95 L279.32,153.69 L279.83,155.41 L280.35,157.10 L280.86,158.76 L281.37,160.38 L281.89,161.98 L282.40,163.54 L282.92,165.07 L283.44,166.56 L283.96,168.01 L284.48,169.44 L285.01,170.82 L285.54,172.17 L286.08,173.49 L286.62,174.77 L287.16,176.01 L287.72,177.22 L288.28,178.38 L288.85,179.52 L289.42,180.62 L290.01,181.68 L290.60,182.71 L291.20,183.70 L291.82,184.66 L292.44,185.58 L293.08,186.47 L293.72,187.33 L294.37,188.16 L295.02,188.95 L295.68,189.71 L296.33,190.45 L296.99,191.15 L297.63,191.82 L298.27,192.47 L298.90,193.09 L299.51,193.68 L300.11,194.24 L300.69,194.78 L301.25,195.30 L301.79,195.79 L302.31,196.26 L302.79,196.70 L303.25,197.13 L303.68,197.53 L304.07,197.91 L304.42,198.28 L304.74,198.62 L305.01,198.95 L305.24,199.26 L305.42,199.55 L305.58,199.83 L305.76,200.09 L305.94,200.34 L306.12,200.58 L306.30,200.80 L306.47,201.01 L306.65,201.20 L306.83,201.39 L307.01,201.56 L307.19,201.73 L307.36,201.88 L307.54,202.02 L307.72,202.16 L307.90,202.28 L308.07,202.40 L308.25,202.51 L308.43,202.62 L308.61,202.72 L308.79,202.81 L308.96,202.89 L309.14,202.97 L309.32,203.04 L309.50,203.11 L309.68,203.18 L309.85,203.24 L310.03,203.29 L310.21,203.34 L310.39,203.39 L310.57,203.44 L310.74,203.48 L310.92,203.52 L311.10,203.55 L311.28,203.58 L311.46,203.61 L311.63,203.64 L311.81,203.67 L311.99,203.69 L312.17,203.71 L312.35,203.73 L312.52,203.75 L312.70,203.77 L312.88,203.78 L313.06,203.80" stroke="#00ffff" stroke-width="3.2"/>
<path d="M170.15,203.80 L170.55,203.78 L170.96,203.77 L171.37,203.75 L171.78,203.73 L172.18,203.71 L172.59,203.69 L173.00,203.67 L173.40,203.64 L173.81,203.61 L174.22,203.58 L174.63,203.55 L175.03,203.52 L175.44,203.48 L175.85,203.44 L176.26,203.39 L176.66,203.34 L177.07,203.29 L177.48,203.24 L177.88,203.18 L178.29,203.11 L178.70,203.04 L179.11,202.97 L179.51,202.89 L179.92,202.81 L180.32,202.72 L180.73,202.62 L181.15,202.51 L181.58,202.40 L182.01,202.28 L182.45,202.16 L182.90,202.02 L183.36,201.88 L183.82,201.73 L184.29,201.56 L184.77,201.39 L185.25,201.20 L185.74,201.01 L186.24,200.80 L186.74,200.58 L187.24,200.34 L187.75,200.09 L188.27,199.83 L188.79,199.55 L189.31,199.26 L189.84,198.95 L190.37,198.62 L190.90,198.28 L191.44,197.91 L191.98,197.53 L192.52,197.13 L193.07,196.70 L193.61,196.26 L194.16,195.79 L194.71,195.30 L195.26,194.78 L195.81,194.24 L196.36,193.68 L196.91,193.09 L197.46,192.47 L198.01,191.82 L198.56,191.15 L199.11,190.45 L199.66,189.71 L200.20,188.95 L200.75,188.16 L201.29,187.33 L201.83,186.47 L202.37,185.58 L202.90,184.66 L203.43,183.70 L203.96,182.71 L204.49,181.68 L205.01,180.62 L205.53,179.52 L206.05,178.38 L206.56,177.22 L207.07,176.01 L207.58,174.77 L208.09,173.49 L208.59,172.17 L209.09,170.82 L209.59,169.44 L210.08,168.01 L210.57,166.56 L211.06,165.07 L211.54,163.54 L212.02,161.98 L212.50,160.38 L212.98,158.76 L213.45,157.10 L213.92,155.41 L214.39,153.69 L214.85,151.95 L215.31,150.18 L215.76,148.38 L216.22,146.55 L216.67,144.71 L217.12,142.84 L217.56,140.95 L218.01,139.05 L218.45,137.13 L218.89,135.19 L219.33,133.24 L219.77,131.29 L220.22,129.32 L220.66,127.35 L221.10,125.38 L221.55,123.41 L222.00,121.43 L222.45,119.47 L222.91,117.51 L223.37,115.55 L223.83,113.62 L224.30,111.69 L224.78,109.79 L225.26,107.90 L225.75,106.04 L226.24,104.20 L226.74,102.39 L226.99,101.54 L227.23,100.69 L227.48,99.85 L227.73,99.01 L227.98,98.19 L228.24,97.37 L228.49,96.57 L228.75,95.77 L229.01,94.98 L229.27,94.20 L229.53,93.44 L229.80,92.68 L230.07,91.93 L230.34,91.20 L230.61,90.48 L230.88,89.77 L231.15,89.07 L231.43,88.38 L231.70,87.71 L231.98,87.04 L232.25,86.40 L232.53,85.76 L232.81,85.14 L233.09,84.53 L233.37,83.94 L233.65,83.36 L233.94,82.80 L234.22,82.25 L234.50,81.71 L234.78,81.19 L235.07,80.69 L235.35,80.20 L235.63,79.73 L235.92,79.27 L236.20,78.83 L236.48,78.41 L236.77,78.00 L237.05,77.62 L237.33,77.24 L237.61,76.89 L237.89,76.55 L238.17,76.23 L238.45,75.93 L238.73,75.64 L239.01,75.37 L239.28,75.12 L239.56,74.89 L239.83,74.68 L240.11,74.48 L240.38,74.31 L240.65,74.15 L240.92,74.01 L241.18,73.89 L241.45,73.78 L241.71,73.70 L241.98,73.63 L242.24,73.59 L242.49,73.56 L242.75,73.55 L243.01,73.56 L243.26,73.59 L243.52,73.63 L243.79,73.70 L244.05,73.78 L244.32,73.89 L244.58,74.01 L244.85,74.15 L245.12,74.31 L245.39,74.48 L245.67,74.68 L245.94,74.89 L246.22,75.12 L246.49,75.37 L246.77,75.64 L247.05,75.93 L247.33,76.23 L247.61,76.55 L247.89,76.89 L248.17,77.24 L248.45,77.62 L248.73,78.00 L249.02,78.41 L249.30,78.83 L249.58,79.27 L249.87,79.73 L250.15,80.20 L250.43,80.69 L250.72,81.19 L251.00,81.71 L251.28,82.25 L251.56,82.80 L251.85,83.36 L252.13,83.94 L252.41,84.53 L252.69,85.14 L252.97,85.76 L253.25,86.40 L253.52,87.04 L253.80,87.71 L254.07,88.38 L254.35,89.07 L254.62,89.77 L254.89,90.48 L255.16,91.20 L255.43,91.93 L255.70,92.68 L255.97,93.44 L256.23,94.20 L256.49,94.98 L256.75,95.77 L257.01,96.57 L257.26,97.37 L257.52,98.19 L257.77,99.01 L258.02,99.85 L258.27,100.69 L258.51,101.54 L258.76,102.39 L259.26,104.20 L259.75,106.04 L260.24,107.90 L260.72,109.79 L261.20,111.69 L261.67,113.62 L262.13,115.55 L262.59,117.51 L263.05,119.47 L263.50,121.43 L263.95,123.41 L264.40,125.38 L264.84,127.35 L265.28,129.32 L265.73,131.29 L266.17,133.24 L266.61,135.19 L267.05,137.13 L267.49,139.05 L267.94,140.95 L268.38,142.84 L268.83,144.71 L269.28,146.55 L269.74,148.38 L270.19,150.18 L270.65,151.95 L271.11,153.69 L271.58,155.41 L272.05,157.10 L272.52,158.76 L273.00,160.38 L273.48,161.98 L273.96,163.54 L274.44,165.07 L274.93,166.56 L275.42,168.01 L275.91,169.44 L276.41,170.82 L276.91,172.17 L277.41,173.49 L277.92,174.77 L278.43,176.01 L278.94,177.22 L279.45,178.38 L279.97,179.52 L280.49,180.62 L281.01,181.68 L281.54,182.71 L282.07,183.70 L282.60,184.66 L283.13,185.58 L283.67,186.47 L284.21,187.33 L284.75,188.16 L285.30,188.95 L285.84,189.71 L286.39,190.45 L286.94,191.15 L287.49,191.82 L288.04,192.47 L288.59,193.09 L289.14,193.68 L289.69,194.24 L290.24,194.78 L290.79,195.30 L291.34,195.79 L291.89,196.26 L292.43,196.70 L292.98,197.13 L293.52,197.53 L294.06,197.91 L294.60,198.28 L295.13,198.62 L295.66,198.95 L296.19,199.26 L296.71,199.55 L297.23,199.83 L297.75,200.09 L298.26,200.34 L298.76,200.58 L299.26,200.80 L299.76,201.01 L300.25,201.20 L300.73,201.39 L301.21,201.56 L301.68,201.73 L302.14,201.88 L302.60,202.02 L303.05,202.16 L303.49,202.28 L303.92,202.40 L304.35,202.51 L304.77,202.62 L305.18,202.72 L305.58,202.81 L305.99,202.89 L306.39,202.97 L306.80,203.04 L307.21,203.11 L307.62,203.18 L308.02,203.24 L308.43,203.29 L308.84,203.34 L309.24,203.39 L309.65,203.44 L310.06,203.48 L310.47,203.52 L310.87,203.55 L311.28,203.58 L311.69,203.61 L312.10,203.64 L312.50,203.67 L312.91,203.69 L313.32,203.71 L313.72,203.73 L314.13,203.75 L314.54,203.77 L314.95,203.78 L315.35,203.80" stroke="#0a5cff" stroke-width="3.2"/>
<path d="M173.26,203.80 L173.81,203.78 L174.36,203.77 L174.91,203.75 L175.46,203.73 L176.01,203.71 L176.56,203.69 L177.11,203.67 L177.66,203.64 L178.21,203.61 L178.76,203.58 L179.32,203.55 L179.87,203.52 L180.42,203.48 L180.96,203.44 L181.49,203.39 L182.02,203.34 L182.54,203.29 L183.06,203.24 L183.57,203.18 L184.07,203.11 L184.57,203.04 L185.07,202.97 L185.56,202.89 L186.05,202.81 L186.53,202.72 L187.01,202.62 L187.48,202.51 L187.95,202.40 L188.42,202.28 L188.89,202.16 L189.36,202.02 L189.82,201.88 L190.28,201.73 L190.74,201.56 L191.20,201.39 L191.66,201.20 L192.11,201.01 L192.56,200.80 L193.02,200.58 L193.47,200.34 L193.92,200.09 L194.37,199.83 L194.82,199.55 L195.26,199.26 L195.71,198.95 L196.16,198.62 L196.61,198.28 L197.05,197.91 L197.50,197.53 L197.95,197.13 L198.40,196.70 L198.85,196.26 L199.30,195.79 L199.75,195.30 L200.20,194.78 L200.65,194.24 L201.11,193.68 L201.56,193.09 L202.02,192.47 L202.48,191.82 L202.94,191.15 L203.40,190.45 L203.86,189.71 L204.33,188.95 L204.80,188.16 L205.27,187.33 L205.74,186.47 L206.22,185.58 L206.69,184.66 L207.18,183.70 L207.66,182.71 L208.14,181.68 L208.63,180.62 L209.12,179.52 L209.61,178.38 L210.10,177.22 L210.59,176.01 L211.08,174.77 L211.57,173.49 L212.06,172.17 L212.55,170.82 L213.04,169.44 L213.53,168.01 L214.02,166.56 L214.50,165.07 L214.99,163.54 L215.47,161.98 L215.94,160.38 L216.42,158.76 L216.89,157.10 L217.36,155.41 L217.83,153.69 L218.29,151.95 L218.74,150.18 L219.19,148.38 L219.64,146.55 L220.08,144.71 L220.52,142.84 L220.96,140.95 L221.39,139.05 L221.81,137.13 L222.24,135.19 L222.66,133.24 L223.08,131.29 L223.50,129.32 L223.93,127.35 L224.35,125.38 L224.78,123.41 L225.20,121.43 L225.63,119.47 L226.07,117.51 L226.51,115.55 L226.95,113.62 L227.40,111.69 L227.86,109.79 L228.32,107.90 L228.79,106.04 L229.27,104.20 L229.75,102.39 L229.99,101.54 L230.23,100.69 L230.47,99.85 L230.72,99.01 L230.96,98.19 L231.21,97.37 L231.46,96.57 L231.72,95.77 L231.97,94.98 L232.23,94.20 L232.49,93.44 L232.75,92.68 L233.02,91.93 L233.28,91.20 L233.55,90.48 L233.81,89.77 L234.08,89.07 L234.34,88.38 L234.61,87.71 L234.88,87.04 L235.14,86.40 L235.41,85.76 L235.67,85.14 L235.93,84.53 L236.19,83.94 L236.45,83.36 L236.71,82.80 L236.97,82.25 L237.22,81.71 L237.47,81.19 L237.72,80.69 L237.97,80.20 L238.21,79.73 L238.45,79.27 L238.69,78.83 L238.92,78.41 L239.15,78.00 L239.37,77.62 L239.59,77.24 L239.81,76.89 L240.02,76.55 L240.23,76.23 L240.43,75.93 L240.62,75.64 L240.81,75.37 L241.00,75.12 L241.17,74.89 L241.34,74.68 L241.51,74.48 L241.67,74.31 L241.82,74.15 L241.96,74.01 L242.10,73.89 L242.23,73.78 L242.35,73.70 L242.46,73.63 L242.56,73.59 L242.66,73.56 L242.75,73.55 L242.84,73.56 L242.94,73.59 L243.04,73.63 L243.15,73.70 L243.27,73.78 L243.40,73.89 L243.54,74.01 L243.68,74.15 L243.83,74.31 L243.99,74.48 L244.16,74.68 L244.33,74.89 L244.50,75.12 L244.69,75.37 L244.88,75.64 L245.07,75.93 L245.27,76.23 L245.48,76.55 L245.69,76.89 L245.91,77.24 L246.13,77.62 L246.35,78.00 L246.58,78.41 L246.81,78.83 L247.05,79.27 L247.29,79.73 L247.53,80.20 L247.78,80.69 L248.03,81.19 L248.28,81.71 L248.53,82.25 L248.79,82.80 L249.05,83.36 L249.31,83.94 L249.57,84.53 L249.83,85.14 L250.09,85.76 L250.36,86.40 L250.62,87.04 L250.89,87.71 L251.16,88.38 L251.42,89.07 L251.69,89.77 L251.95,90.48 L252.22,91.20 L252.48,91.93 L252.75,92.68 L253.01,93.44 L253.27,94.20 L253.53,94.98 L253.78,95.77 L254.04,96.57 L254.29,97.37 L254.54,98.19 L254.78,99.01 L255.03,99.85 L255.27,100.69 L255.51,101.54 L255.75,102.39 L256.23,104.20 L256.71,106.04 L257.18,107.90 L257.64,109.79 L258.10,111.69 L258.55,113.62 L258.99,115.55 L259.43,117.51 L259.87,119.47 L260.30,121.43 L260.72,123.41 L261.15,125.38 L261.57,127.35 L262.00,129.32 L262.42,131.29 L262.84,133.24 L263.26,135.19 L263.69,137.13 L264.11,139.05 L264.54,140.95 L264.98,142.84 L265.42,144.71 L265.86,146.55 L266.31,148.38 L266.76,150.18 L267.21,151.95 L267.67,153.69 L268.14,155.41 L268.61,157.10 L269.08,158.76 L269.56,160.38 L270.03,161.98 L270.51,163.54 L271.00,165.07 L271.48,166.56 L271.97,168.01 L272.46,169.44 L272.95,170.82 L273.44,172.17 L273.93,173.49 L274.42,174.77 L274.91,176.01 L275.40,177.22 L275.89,178.38 L276.38,179.52 L276.87,180.62 L277.36,181.68 L277.84,182.71 L278.32,183.70 L278.81,184.66 L279.28,185.58 L279.76,186.47 L280.23,187.33 L280.70,188.16 L281.17,188.95 L281.64,189.71 L282.10,190.45 L282.56,191.15 L283.02,191.82 L283.48,192.47 L283.94,193.09 L284.39,193.68 L284.85,194.24 L285.30,194.78 L285.75,195.30 L286.20,195.79 L286.65,196.26 L287.10,196.70 L287.55,197.13 L288.00,197.53 L288.45,197.91 L288.89,198.28 L289.34,198.62 L289.79,198.95 L290.24,199.26 L290.68,199.55 L291.13,199.83 L291.58,200.09 L292.03,200.34 L292.48,200.58 L292.94,200.80 L293.39,201.01 L293.84,201.20 L294.30,201.39 L294.76,201.56 L295.22,201.73 L295.68,201.88 L296.14,202.02 L296.61,202.16 L297.08,202.28 L297.55,202.40 L298.02,202.51 L298.49,202.62 L298.97,202.72 L299.45,202.81 L299.94,202.89 L300.43,202.97 L300.93,203.04 L301.43,203.11 L301.93,203.18 L302.44,203.24 L302.96,203.29 L303.48,203.34 L304.01,203.39 L304.54,203.44 L305.08,203.48 L305.63,203.52 L306.18,203.55 L306.74,203.58 L307.29,203.61 L307.84,203.64 L308.39,203.67 L308.94,203.69 L309.49,203.71 L310.04,203.73 L310.59,203.75 L311.14,203.77 L311.69,203.78 L312.24,203.80" stroke="#b800ff" stroke-width="3.2"/>
<path d="M173.81,203.80 L174.38,203.78 L174.96,203.77 L175.54,203.75 L176.11,203.73 L176.69,203.71 L177.26,203.69 L177.84,203.67 L178.41,203.64 L178.99,203.61 L179.57,203.58 L180.14,203.55 L180.72,203.52 L181.29,203.48 L181.86,203.44 L182.41,203.39 L182.96,203.34 L183.51,203.29 L184.04,203.24 L184.57,203.18 L185.09,203.11 L185.61,203.04 L186.12,202.97 L186.63,202.89 L187.13,202.81 L187.62,202.72 L188.11,202.62 L188.60,202.51 L189.08,202.40 L189.56,202.28 L190.03,202.16 L190.50,202.02 L190.96,201.88 L191.42,201.73 L191.88,201.56 L192.33,201.39 L192.79,201.20 L193.23,201.01 L193.68,200.80 L194.12,200.58 L194.57,200.34 L195.00,200.09 L195.44,199.83 L195.88,199.55 L196.31,199.26 L196.75,198.95 L197.18,198.62 L197.61,198.28 L198.05,197.91 L198.48,197.53 L198.91,197.13 L199.34,196.70 L199.77,196.26 L200.20,195.79 L200.64,195.30 L201.07,194.78 L201.51,194.24 L201.94,193.68 L202.38,193.09 L202.82,192.47 L203.26,191.82 L203.71,191.15 L204.15,190.45 L204.60,189.71 L205.06,188.95 L205.51,188.16 L205.97,187.33 L206.43,186.47 L206.89,185.58 L207.36,184.66 L207.84,183.70 L208.31,182.71 L208.79,181.68 L209.27,180.62 L209.75,179.52 L210.24,178.38 L210.72,177.22 L211.21,176.01 L211.70,174.77 L212.19,173.49 L212.68,172.17 L213.16,170.82 L213.65,169.44 L214.14,168.01 L214.63,166.56 L215.11,165.07 L215.59,163.54 L216.07,161.98 L216.55,160.38 L217.03,158.76 L217.50,157.10 L217.97,155.41 L218.43,153.69 L218.89,151.95 L219.35,150.18 L219.80,148.38 L220.25,146.55 L220.69,144.71 L221.12,142.84 L221.55,140.95 L221.98,139.05 L222.41,137.13 L222.83,135.19 L223.25,133.24 L223.67,131.29 L224.09,129.32 L224.50,127.35 L224.92,125.38 L225.35,123.41 L225.77,121.43 L226.20,119.47 L226.63,117.51 L227.06,115.55 L227.50,113.62 L227.95,111.69 L228.40,109.79 L228.86,107.90 L229.32,106.04 L229.80,104.20 L230.28,102.39 L230.52,101.54 L230.76,100.69 L231.00,99.85 L231.24,99.01 L231.49,98.19 L231.74,97.37 L231.99,96.57 L232.24,95.77 L232.50,94.98 L232.76,94.20 L233.01,93.44 L233.28,92.68 L233.54,91.93 L233.80,91.20 L234.06,90.48 L234.33,89.77 L234.59,89.07 L234.86,88.38 L235.12,87.71 L235.39,87.04 L235.65,86.40 L235.91,85.76 L236.17,85.14 L236.43,84.53 L236.69,83.94 L236.95,83.36 L237.20,82.80 L237.45,82.25 L237.70,81.71 L237.95,81.19 L238.19,80.69 L238.43,80.20 L238.67,79.73 L238.90,79.27 L239.13,78.83 L239.35,78.41 L239.57,78.00 L239.78,77.62 L239.99,77.24 L240.20,76.89 L240.40,76.55 L240.59,76.23 L240.77,75.93 L240.96,75.64 L241.13,75.37 L241.30,75.12 L241.46,74.89 L241.61,74.68 L241.76,74.48 L241.89,74.31 L242.02,74.15 L242.15,74.01 L242.26,73.89 L242.36,73.78 L242.46,73.70 L242.55,73.63 L242.62,73.59 L242.69,73.56 L242.75,73.55 L242.81,73.56 L242.88,73.59 L242.95,73.63 L243.04,73.70 L243.14,73.78 L243.24,73.89 L243.35,74.01 L243.48,74.15 L243.61,74.31 L243.74,74.48 L243.89,74.68 L244.04,74.89 L244.20,75.12 L244.37,75.37 L244.54,75.64 L244.73,75.93 L244.91,76.23 L245.10,76.55 L245.30,76.89 L245.51,77.24 L245.72,77.62 L245.93,78.00 L246.15,78.41 L246.37,78.83 L246.60,79.27 L246.83,79.73 L247.07,80.20 L247.31,80.69 L247.55,81.19 L247.80,81.71 L248.05,82.25 L248.30,82.80 L248.55,83.36 L248.81,83.94 L249.07,84.53 L249.33,85.14 L249.59,85.76 L249.85,86.40 L250.11,87.04 L250.38,87.71 L250.64,88.38 L250.91,89.07 L251.17,89.77 L251.44,90.48 L251.70,91.20 L251.96,91.93 L252.22,92.68 L252.49,93.44 L252.74,94.20 L253.00,94.98 L253.26,95.77 L253.51,96.57 L253.76,97.37 L254.01,98.19 L254.26,99.01 L254.50,99.85 L254.74,100.69 L254.98,101.54 L255.22,102.39 L255.70,104.20 L256.18,106.04 L256.64,107.90 L257.10,109.79 L257.55,111.69 L258.00,113.62 L258.44,115.55 L258.87,117.51 L259.30,119.47 L259.73,121.43 L260.15,123.41 L260.58,125.38 L261.00,127.35 L261.41,129.32 L261.83,131.29 L262.25,133.24 L262.67,135.19 L263.09,137.13 L263.52,139.05 L263.95,140.95 L264.38,142.84 L264.81,144.71 L265.25,146.55 L265.70,148.38 L266.15,150.18 L266.61,151.95 L267.07,153.69 L267.53,155.41 L268.00,157.10 L268.47,158.76 L268.95,160.38 L269.43,161.98 L269.91,163.54 L270.39,165.07 L270.87,166.56 L271.36,168.01 L271.85,169.44 L272.34,170.82 L272.82,172.17 L273.31,173.49 L273.80,174.77 L274.29,176.01 L274.78,177.22 L275.26,178.38 L275.75,179.52 L276.23,180.62 L276.71,181.68 L277.19,182.71 L277.66,183.70 L278.14,184.66 L278.61,185.58 L279.07,186.47 L279.53,187.33 L279.99,188.16 L280.44,188.95 L280.90,189.71 L281.35,190.45 L281.79,191.15 L282.24,191.82 L282.68,192.47 L283.12,193.09 L283.56,193.68 L283.99,194.24 L284.43,194.78 L284.86,195.30 L285.30,195.79 L285.73,196.26 L286.16,196.70 L286.59,197.13 L287.02,197.53 L287.45,197.91 L287.89,198.28 L288.32,198.62 L288.75,198.95 L289.19,199.26 L289.62,199.55 L290.06,199.83 L290.50,200.09 L290.93,200.34 L291.38,200.58 L291.82,200.80 L292.27,201.01 L292.71,201.20 L293.17,201.39 L293.62,201.56 L294.08,201.73 L294.54,201.88 L295.00,202.02 L295.47,202.16 L295.94,202.28 L296.42,202.40 L296.90,202.51 L297.39,202.62 L297.88,202.72 L298.37,202.81 L298.87,202.89 L299.38,202.97 L299.89,203.04 L300.41,203.11 L300.93,203.18 L301.46,203.24 L301.99,203.29 L302.54,203.34 L303.09,203.39 L303.64,203.44 L304.21,203.48 L304.78,203.52 L305.36,203.55 L305.93,203.58 L306.51,203.61 L307.09,203.64 L307.66,203.67 L308.24,203.69 L308.81,203.71 L309.39,203.73 L309.96,203.75 L310.54,203.77 L311.12,203.78 L311.69,203.80" stroke="#ff0000" stroke-width="3.2"/>
<path d="M176.86,203.26 L177.65,203.17 L178.43,203.07 L179.22,202.96 L180.00,202.83 L180.78,202.69 L181.57,202.53 L182.35,202.36 L183.14,202.17 L183.92,201.96 L184.71,201.73 L185.49,201.47 L186.28,201.19 L187.06,200.88 L187.84,200.54 L188.63,200.17 L189.41,199.76 L190.20,199.32 L190.98,198.84 L191.77,198.31 L192.55,197.74 L193.33,197.13 L194.12,196.47 L194.90,195.75 L195.69,194.98 L196.47,194.15 L197.26,193.26 L198.04,192.30 L198.83,191.28 L199.61,190.19 L200.39,189.03 L201.18,187.79 L201.96,186.48 L202.75,185.09 L203.53,183.62 L204.32,182.07 L205.10,180.43 L205.88,178.71 L206.67,176.91 L207.45,175.01 L208.24,173.03 L209.02,170.97 L209.81,168.82 L210.59,166.58 L211.38,164.26 L212.16,161.86 L212.94,159.38 L213.73,156.82 L214.51,154.20 L215.30,151.50 L216.08,148.74 L216.87,145.92 L217.65,143.05 L218.43,140.12 L219.22,137.16 L220.00,134.17 L220.79,131.15 L221.57,128.11 L222.36,125.06 L223.14,122.01 L223.93,118.97 L224.71,115.95 L225.49,112.96 L226.28,110.00 L227.06,107.09 L227.85,104.24 L228.63,101.46 L229.42,98.76 L230.20,96.15 L230.98,93.64 L231.77,91.23 L232.55,88.95 L233.34,86.79 L234.12,84.77 L234.91,82.89 L235.69,81.17 L236.47,79.61 L237.26,78.21 L238.04,76.99 L238.83,75.95 L239.61,75.09 L240.40,74.42 L241.18,73.94 L241.97,73.65 L242.75,73.55 L243.53,73.65 L244.32,73.94 L245.10,74.42 L245.89,75.09 L246.67,75.95 L247.46,76.99 L248.24,78.21 L249.03,79.61 L249.81,81.17 L250.59,82.89 L251.38,84.77 L252.16,86.79 L252.95,88.95 L253.73,91.23 L254.52,93.64 L255.30,96.15 L256.08,98.76 L256.87,101.46 L257.65,104.24 L258.44,107.09 L259.22,110.00 L260.01,112.96 L260.79,115.95 L261.57,118.97 L262.36,122.01 L263.14,125.06 L263.93,128.11 L264.71,131.15 L265.50,134.17 L266.28,137.16 L267.07,140.12 L267.85,143.05 L268.63,145.92 L269.42,148.74 L270.20,151.50 L270.99,154.20 L271.77,156.82 L272.56,159.38 L273.34,161.86 L274.12,164.26 L274.91,166.58 L275.69,168.82 L276.48,170.97 L277.26,173.03 L278.05,175.01 L278.83,176.91 L279.62,178.71 L280.40,180.43 L281.18,182.07 L281.97,183.62 L282.75,185.09 L283.54,186.48 L284.32,187.79 L285.11,189.03 L285.89,190.19 L286.68,191.28 L287.46,192.30 L288.24,193.26 L289.03,194.15 L289.81,194.98 L290.60,195.75 L291.38,196.47 L292.17,197.13 L292.95,197.74 L293.73,198.31 L294.52,198.84 L295.30,199.32 L296.09,199.76 L296.87,200.17 L297.66,200.54 L298.44,200.88 L299.23,201.19 L300.01,201.47 L300.79,201.73 L301.58,201.96 L302.36,202.17 L303.15,202.36 L303.93,202.53 L304.72,202.69 L305.50,202.83 L306.28,202.96 L307.07,203.07 L307.85,203.17 L308.64,203.26" stroke="#b9b9b9" stroke-width="2.2" stroke-dasharray="9.9 5" stroke-dashoffset="7.32"/>
<path d="M176.86,198.50 L177.65,198.08 L178.43,197.62 L179.22,197.14 L180.00,196.63 L180.78,196.09 L181.57,195.51 L182.35,194.90 L183.14,194.26 L183.92,193.58 L184.71,192.86 L185.49,192.10 L186.28,191.30 L187.06,190.46 L187.84,189.57 L188.63,188.65 L189.41,187.67 L190.20,186.65 L190.98,185.59 L191.77,184.47 L192.55,183.31 L193.33,182.09 L194.12,180.83 L194.90,179.51 L195.69,178.14 L196.47,176.72 L197.26,175.25 L198.04,173.73 L198.83,172.15 L199.61,170.52 L200.39,168.84 L201.18,167.11 L201.96,165.33 L202.75,163.50 L203.53,161.62 L204.32,159.69 L205.10,157.71 L205.88,155.69 L206.67,153.63 L207.45,151.53 L208.24,149.38 L209.02,147.21 L209.81,144.99 L210.59,142.75 L211.38,140.48 L212.16,138.18 L212.94,135.86 L213.73,133.52 L214.51,131.17 L215.30,128.81 L216.08,126.44 L216.87,124.07 L217.65,121.70 L218.43,119.33 L219.22,116.98 L220.00,114.64 L220.79,112.32 L221.57,110.02 L222.36,107.75 L223.14,105.52 L223.93,103.32 L224.71,101.17 L225.49,99.07 L226.28,97.02 L227.06,95.03 L227.85,93.10 L228.63,91.24 L229.42,89.45 L230.20,87.74 L230.98,86.11 L231.77,84.56 L232.55,83.10 L233.34,81.73 L234.12,80.46 L234.91,79.29 L235.69,78.22 L236.47,77.25 L237.26,76.39 L238.04,75.65 L238.83,75.01 L239.61,74.49 L240.40,74.08 L241.18,73.78 L241.97,73.61 L242.75,73.55 L243.53,73.61 L244.32,73.78 L245.10,74.08 L245.89,74.49 L246.67,75.01 L247.46,75.65 L248.24,76.39 L249.03,77.25 L249.81,78.22 L250.59,79.29 L251.38,80.46 L252.16,81.73 L252.95,83.10 L253.73,84.56 L254.52,86.11 L255.30,87.74 L256.08,89.45 L256.87,91.24 L257.65,93.10 L258.44,95.03 L259.22,97.02 L260.01,99.07 L260.79,101.17 L261.57,103.32 L262.36,105.52 L263.14,107.75 L263.93,110.02 L264.71,112.32 L265.50,114.64 L266.28,116.98 L267.07,119.33 L267.85,121.70 L268.63,124.07 L269.42,126.44 L270.20,128.81 L270.99,131.17 L271.77,133.52 L272.56,135.86 L273.34,138.18 L274.12,140.48 L274.91,142.75 L275.69,144.99 L276.48,147.21 L277.26,149.38 L278.05,151.53 L278.83,153.63 L279.62,155.69 L280.40,157.71 L281.18,159.69 L281.97,161.62 L282.75,163.50 L283.54,165.33 L284.32,167.11 L285.11,168.84 L285.89,170.52 L286.68,172.15 L287.46,173.73 L288.24,175.25 L289.03,176.72 L289.81,178.14 L290.60,179.51 L291.38,180.83 L292.17,182.09 L292.95,183.31 L293.73,184.47 L294.52,185.59 L295.30,186.65 L296.09,187.67 L296.87,188.65 L297.66,189.57 L298.44,190.46 L299.23,191.30 L300.01,192.10 L300.79,192.86 L301.58,193.58 L302.36,194.26 L303.15,194.90 L303.93,195.51 L304.72,196.09 L305.50,196.63 L306.28,197.14 L307.07,197.62 L307.85,198.08 L308.64,198.50" stroke="#94941a" stroke-width="1.5" stroke-dasharray="7.7 7.2 2.7 7"/>
</g>
<g clip-path="url(#cp2)" fill="none" stroke-linejoin="round">
<path d="M304.83,203.80 L304.91,203.78 L305.00,203.77 L305.08,203.75 L305.16,203.73 L305.25,203.71 L305.33,203.69 L305.41,203.67 L305.50,203.64 L305.58,203.61 L305.66,203.58 L305.75,203.55 L305.83,203.52 L305.92,203.48 L306.00,203.44 L306.08,203.39 L306.17,203.34 L306.25,203.29 L306.33,203.24 L306.42,203.18 L306.50,203.11 L306.58,203.04 L306.67,202.97 L306.75,202.89 L306.83,202.81 L306.92,202.72 L307.00,202.62 L307.08,202.51 L307.17,202.40 L307.25,202.28 L307.33,202.16 L307.42,202.02 L307.50,201.88 L307.58,201.73 L307.67,201.56 L307.75,201.39 L307.84,201.20 L307.92,201.01 L308.00,200.80 L308.09,200.58 L308.17,200.34 L308.25,200.09 L308.34,199.83 L308.42,199.55 L308.50,199.26 L308.57,198.95 L308.68,198.62 L308.83,198.28 L309.03,197.91 L309.26,197.53 L309.52,197.13 L309.82,196.70 L310.16,196.26 L310.52,195.79 L310.91,195.30 L311.33,194.78 L311.77,194.24 L312.23,193.68 L312.72,193.09 L313.22,192.47 L313.74,191.82 L314.27,191.15 L314.82,190.45 L315.38,189.71 L315.95,188.95 L316.52,188.16 L317.10,187.33 L317.68,186.47 L318.27,185.58 L318.85,184.66 L319.43,183.70 L320.01,182.71 L320.59,181.68 L321.17,180.62 L321.75,179.52 L322.32,178.38 L322.89,177.22 L323.47,176.01 L324.04,174.77 L324.60,173.49 L325.17,172.17 L325.73,170.82 L326.30,169.44 L326.85,168.01 L327.41,166.56 L327.96,165.07 L328.51,163.54 L329.06,161.98 L329.61,160.38 L330.15,158.76 L330.68,157.10 L331.22,155.41 L331.75,153.69 L332.28,151.95 L332.80,150.18 L333.32,148.38 L333.83,146.55 L334.34,144.71 L334.85,142.84 L335.35,140.95 L335.86,139.05 L336.36,137.13 L336.86,135.19 L337.37,133.24 L337.88,131.29 L338.39,129.32 L338.91,127.35 L339.43,125.38 L339.96,123.41 L340.51,121.43 L341.06,119.47 L341.62,117.51 L342.19,115.55 L342.77,113.62 L343.37,111.69 L343.99,109.79 L344.62,107.90 L345.27,106.04 L345.93,104.20 L346.62,102.39 L346.96,101.54 L347.30,100.69 L347.65,99.85 L348.00,99.01 L348.35,98.19 L348.72,97.37 L349.08,96.57 L349.46,95.77 L349.84,94.98 L350.22,94.20 L350.61,93.44 L351.00,92.68 L351.40,91.93 L351.80,91.20 L352.20,90.48 L352.61,89.77 L353.02,89.07 L353.44,88.38 L353.86,87.71 L354.28,87.04 L354.70,86.40 L355.13,85.76 L355.56,85.14 L356.00,84.53 L356.43,83.94 L356.87,83.36 L357.31,82.80 L357.75,82.25 L358.19,81.71 L358.63,81.19 L359.08,80.69 L359.52,80.20 L359.97,79.73 L360.42,79.27 L360.86,78.83 L361.31,78.41 L361.76,78.00 L362.21,77.62 L362.65,77.24 L363.10,76.89 L363.55,76.55 L363.99,76.23 L364.43,75.93 L364.88,75.64 L365.32,75.37 L365.76,75.12 L366.20,74.89 L366.63,74.68 L367.07,74.48 L367.50,74.31 L367.93,74.15 L368.35,74.01 L368.78,73.89 L369.20,73.78 L369.62,73.70 L370.03,73.63 L370.44,73.59 L370.85,73.56 L371.25,73.55 L371.65,73.56 L372.06,73.59 L372.47,73.63 L372.88,73.70 L373.30,73.78 L373.72,73.89 L374.15,74.01 L374.57,74.15 L375.00,74.31 L375.43,74.48 L375.87,74.68 L376.30,74.89 L376.74,75.12 L377.18,75.37 L377.62,75.64 L378.07,75.93 L378.51,76.23 L378.95,76.55 L379.40,76.89 L379.85,77.24 L380.29,77.62 L380.74,78.00 L381.19,78.41 L381.64,78.83 L382.08,79.27 L382.53,79.73 L382.98,80.20 L383.42,80.69 L383.87,81.19 L384.31,81.71 L384.75,82.25 L385.19,82.80 L385.63,83.36 L386.07,83.94 L386.50,84.53 L386.94,85.14 L387.37,85.76 L387.80,86.40 L388.22,87.04 L388.64,87.71 L389.06,88.38 L389.48,89.07 L389.89,89.77 L390.30,90.48 L390.70,91.20 L391.10,91.93 L391.50,92.68 L391.89,93.44 L392.28,94.20 L392.66,94.98 L393.04,95.77 L393.42,96.57 L393.78,97.37 L394.15,98.19 L394.50,99.01 L394.85,99.85 L395.20,100.69 L395.54,101.54 L395.88,102.39 L396.57,104.20 L397.23,106.04 L397.88,107.90 L398.51,109.79 L399.13,111.69 L399.73,113.62 L400.31,115.55 L400.88,117.51 L401.44,119.47 L401.99,121.43 L402.54,123.41 L403.07,125.38 L403.59,127.35 L404.11,129.32 L404.62,131.29 L405.13,133.24 L405.64,135.19 L406.14,137.13 L406.64,139.05 L407.15,140.95 L407.65,142.84 L408.16,144.71 L408.67,146.55 L409.18,148.38 L409.70,150.18 L410.22,151.95 L410.75,153.69 L411.28,155.41 L411.82,157.10 L412.35,158.76 L412.89,160.38 L413.44,161.98 L413.99,163.54 L414.54,165.07 L415.09,166.56 L415.65,168.01 L416.20,169.44 L416.77,170.82 L417.33,172.17 L417.90,173.49 L418.46,174.77 L419.03,176.01 L419.61,177.22 L420.18,178.38 L420.75,179.52 L421.33,180.62 L421.91,181.68 L422.49,182.71 L423.07,183.70 L423.65,184.66 L424.23,185.58 L424.82,186.47 L425.40,187.33 L425.98,188.16 L426.55,188.95 L427.12,189.71 L427.68,190.45 L428.23,191.15 L428.76,191.82 L429.28,192.47 L429.78,193.09 L430.27,193.68 L430.73,194.24 L431.17,194.78 L431.59,195.30 L431.98,195.79 L432.34,196.26 L432.68,196.70 L432.98,197.13 L433.24,197.53 L433.47,197.91 L433.67,198.28 L433.82,198.62 L433.93,198.95 L434.00,199.26 L434.08,199.55 L434.16,199.83 L434.25,200.09 L434.33,200.34 L434.41,200.58 L434.50,200.80 L434.58,201.01 L434.66,201.20 L434.75,201.39 L434.83,201.56 L434.92,201.73 L435.00,201.88 L435.08,202.02 L435.17,202.16 L435.25,202.28 L435.33,202.40 L435.42,202.51 L435.50,202.62 L435.58,202.72 L435.67,202.81 L435.75,202.89 L435.83,202.97 L435.92,203.04 L436.00,203.11 L436.08,203.18 L436.17,203.24 L436.25,203.29 L436.33,203.34 L436.42,203.39 L436.50,203.44 L436.58,203.48 L436.67,203.52 L436.75,203.55 L436.84,203.58 L436.92,203.61 L437.00,203.64 L437.09,203.67 L437.17,203.69 L437.25,203.71 L437.34,203.73 L437.42,203.75 L437.50,203.77 L437.59,203.78 L437.67,203.80" stroke="#00ffff" stroke-width="3.2"/>
<path d="M303.58,203.80 L303.77,203.78 L303.95,203.77 L304.14,203.75 L304.32,203.73 L304.50,203.71 L304.69,203.69 L304.87,203.67 L305.06,203.64 L305.24,203.61 L305.42,203.58 L305.61,203.55 L305.79,203.52 L305.98,203.48 L306.16,203.44 L306.34,203.39 L306.53,203.34 L306.71,203.29 L306.90,203.24 L307.08,203.18 L307.26,203.11 L307.45,203.04 L307.63,202.97 L307.82,202.89 L308.00,202.81 L308.19,202.72 L308.37,202.62 L308.55,202.51 L308.73,202.40 L308.92,202.28 L309.14,202.16 L309.38,202.02 L309.65,201.88 L309.94,201.73 L310.24,201.56 L310.57,201.39 L310.92,201.20 L311.28,201.01 L311.66,200.80 L312.06,200.58 L312.48,200.34 L312.91,200.09 L313.36,199.83 L313.82,199.55 L314.29,199.26 L314.77,198.95 L315.27,198.62 L315.78,198.28 L316.30,197.91 L316.83,197.53 L317.37,197.13 L317.91,196.70 L318.46,196.26 L319.02,195.79 L319.59,195.30 L320.16,194.78 L320.74,194.24 L321.31,193.68 L321.90,193.09 L322.48,192.47 L323.07,191.82 L323.65,191.15 L324.24,190.45 L324.82,189.71 L325.41,188.95 L325.99,188.16 L326.57,187.33 L327.14,186.47 L327.71,185.58 L328.28,184.66 L328.84,183.70 L329.39,182.71 L329.94,181.68 L330.49,180.62 L331.03,179.52 L331.57,178.38 L332.10,177.22 L332.63,176.01 L333.15,174.77 L333.67,173.49 L334.19,172.17 L334.70,170.82 L335.21,169.44 L335.72,168.01 L336.22,166.56 L336.72,165.07 L337.21,163.54 L337.71,161.98 L338.20,160.38 L338.68,158.76 L339.17,157.10 L339.65,155.41 L340.13,153.69 L340.61,151.95 L341.09,150.18 L341.56,148.38 L342.03,146.55 L342.50,144.71 L342.97,142.84 L343.44,140.95 L343.91,139.05 L344.37,137.13 L344.84,135.19 L345.31,133.24 L345.78,131.29 L346.26,129.32 L346.74,127.35 L347.22,125.38 L347.70,123.41 L348.19,121.43 L348.69,119.47 L349.19,117.51 L349.70,115.55 L350.21,113.62 L350.73,111.69 L351.26,109.79 L351.80,107.90 L352.34,106.04 L352.90,104.20 L353.47,102.39 L353.74,101.54 L354.02,100.69 L354.30,99.85 L354.58,99.01 L354.87,98.19 L355.16,97.37 L355.45,96.57 L355.74,95.77 L356.04,94.98 L356.34,94.20 L356.64,93.44 L356.94,92.68 L357.25,91.93 L357.56,91.20 L357.87,90.48 L358.18,89.77 L358.49,89.07 L358.80,88.38 L359.12,87.71 L359.43,87.04 L359.75,86.40 L360.07,85.76 L360.39,85.14 L360.71,84.53 L361.03,83.94 L361.35,83.36 L361.67,82.80 L361.99,82.25 L362.31,81.71 L362.63,81.19 L362.95,80.69 L363.26,80.20 L363.58,79.73 L363.90,79.27 L364.22,78.83 L364.53,78.41 L364.85,78.00 L365.16,77.62 L365.48,77.24 L365.79,76.89 L366.10,76.55 L366.40,76.23 L366.71,75.93 L367.01,75.64 L367.32,75.37 L367.62,75.12 L367.91,74.89 L368.21,74.68 L368.50,74.48 L368.79,74.31 L369.08,74.15 L369.36,74.01 L369.64,73.89 L369.92,73.78 L370.19,73.70 L370.46,73.63 L370.73,73.59 L370.99,73.56 L371.25,73.55 L371.51,73.56 L371.77,73.59 L372.04,73.63 L372.31,73.70 L372.58,73.78 L372.86,73.89 L373.14,74.01 L373.42,74.15 L373.71,74.31 L374.00,74.48 L374.29,74.68 L374.59,74.89 L374.88,75.12 L375.18,75.37 L375.49,75.64 L375.79,75.93 L376.10,76.23 L376.40,76.55 L376.71,76.89 L377.02,77.24 L377.34,77.62 L377.65,78.00 L377.97,78.41 L378.28,78.83 L378.60,79.27 L378.92,79.73 L379.24,80.20 L379.55,80.69 L379.87,81.19 L380.19,81.71 L380.51,82.25 L380.83,82.80 L381.15,83.36 L381.47,83.94 L381.79,84.53 L382.11,85.14 L382.43,85.76 L382.75,86.40 L383.07,87.04 L383.38,87.71 L383.70,88.38 L384.01,89.07 L384.32,89.77 L384.63,90.48 L384.94,91.20 L385.25,91.93 L385.56,92.68 L385.86,93.44 L386.16,94.20 L386.46,94.98 L386.76,95.77 L387.05,96.57 L387.34,97.37 L387.63,98.19 L387.92,99.01 L388.20,99.85 L388.48,100.69 L388.76,101.54 L389.03,102.39 L389.60,104.20 L390.16,106.04 L390.70,107.90 L391.24,109.79 L391.77,111.69 L392.29,113.62 L392.80,115.55 L393.31,117.51 L393.81,119.47 L394.31,121.43 L394.80,123.41 L395.28,125.38 L395.76,127.35 L396.24,129.32 L396.72,131.29 L397.19,133.24 L397.66,135.19 L398.13,137.13 L398.59,139.05 L399.06,140.95 L399.53,142.84 L400.00,144.71 L400.47,146.55 L400.94,148.38 L401.41,150.18 L401.89,151.95 L402.37,153.69 L402.85,155.41 L403.33,157.10 L403.82,158.76 L404.30,160.38 L404.79,161.98 L405.29,163.54 L405.78,165.07 L406.28,166.56 L406.78,168.01 L407.29,169.44 L407.80,170.82 L408.31,172.17 L408.83,173.49 L409.35,174.77 L409.87,176.01 L410.40,177.22 L410.93,178.38 L411.47,179.52 L412.01,180.62 L412.56,181.68 L413.11,182.71 L413.66,183.70 L414.22,184.66 L414.79,185.58 L415.36,186.47 L415.93,187.33 L416.51,188.16 L417.09,188.95 L417.68,189.71 L418.26,190.45 L418.85,191.15 L419.43,191.82 L420.02,192.47 L420.60,193.09 L421.19,193.68 L421.76,194.24 L422.34,194.78 L422.91,195.30 L423.48,195.79 L424.04,196.26 L424.59,196.70 L425.13,197.13 L425.67,197.53 L426.20,197.91 L426.72,198.28 L427.23,198.62 L427.73,198.95 L428.21,199.26 L428.68,199.55 L429.14,199.83 L429.59,200.09 L430.02,200.34 L430.44,200.58 L430.84,200.80 L431.22,201.01 L431.58,201.20 L431.93,201.39 L432.26,201.56 L432.56,201.73 L432.85,201.88 L433.12,202.02 L433.36,202.16 L433.58,202.28 L433.77,202.40 L433.95,202.51 L434.13,202.62 L434.31,202.72 L434.50,202.81 L434.68,202.89 L434.87,202.97 L435.05,203.04 L435.24,203.11 L435.42,203.18 L435.60,203.24 L435.79,203.29 L435.97,203.34 L436.16,203.39 L436.34,203.44 L436.52,203.48 L436.71,203.52 L436.89,203.55 L437.08,203.58 L437.26,203.61 L437.44,203.64 L437.63,203.67 L437.81,203.69 L438.00,203.71 L438.18,203.73 L438.36,203.75 L438.55,203.77 L438.73,203.78 L438.92,203.80" stroke="#0a5cff" stroke-width="3.2"/>
<path d="M301.43,203.80 L301.84,203.78 L302.25,203.77 L302.65,203.75 L303.06,203.73 L303.47,203.71 L303.87,203.69 L304.28,203.67 L304.69,203.64 L305.10,203.61 L305.50,203.58 L305.91,203.55 L306.32,203.52 L306.72,203.48 L307.13,203.44 L307.54,203.39 L307.95,203.34 L308.35,203.29 L308.76,203.24 L309.17,203.18 L309.58,203.11 L309.99,203.04 L310.41,202.97 L310.83,202.89 L311.26,202.81 L311.68,202.72 L312.11,202.62 L312.55,202.51 L312.98,202.40 L313.42,202.28 L313.86,202.16 L314.31,202.02 L314.76,201.88 L315.22,201.73 L315.68,201.56 L316.15,201.39 L316.62,201.20 L317.09,201.01 L317.57,200.80 L318.05,200.58 L318.53,200.34 L319.02,200.09 L319.51,199.83 L320.00,199.55 L320.50,199.26 L320.99,198.95 L321.49,198.62 L321.99,198.28 L322.50,197.91 L323.00,197.53 L323.51,197.13 L324.02,196.70 L324.52,196.26 L325.03,195.79 L325.54,195.30 L326.05,194.78 L326.56,194.24 L327.07,193.68 L327.58,193.09 L328.09,192.47 L328.60,191.82 L329.11,191.15 L329.61,190.45 L330.12,189.71 L330.62,188.95 L331.13,188.16 L331.63,187.33 L332.13,186.47 L332.63,185.58 L333.12,184.66 L333.61,183.70 L334.11,182.71 L334.60,181.68 L335.08,180.62 L335.57,179.52 L336.05,178.38 L336.54,177.22 L337.02,176.01 L337.50,174.77 L337.98,173.49 L338.46,172.17 L338.94,170.82 L339.41,169.44 L339.89,168.01 L340.37,166.56 L340.84,165.07 L341.32,163.54 L341.80,161.98 L342.27,160.38 L342.75,158.76 L343.23,157.10 L343.70,155.41 L344.18,153.69 L344.66,151.95 L345.14,150.18 L345.62,148.38 L346.10,146.55 L346.58,144.71 L347.07,142.84 L347.55,140.95 L348.04,139.05 L348.53,137.13 L349.01,135.19 L349.50,133.24 L349.99,131.29 L350.48,129.32 L350.98,127.35 L351.47,125.38 L351.96,123.41 L352.45,121.43 L352.95,119.47 L353.44,117.51 L353.93,115.55 L354.43,113.62 L354.92,111.69 L355.42,109.79 L355.91,107.90 L356.41,106.04 L356.90,104.20 L357.40,102.39 L357.64,101.54 L357.87,100.69 L358.11,99.85 L358.35,99.01 L358.59,98.19 L358.82,97.37 L359.06,96.57 L359.30,95.77 L359.53,94.98 L359.77,94.20 L360.01,93.44 L360.25,92.68 L360.48,91.93 L360.72,91.20 L360.95,90.48 L361.19,89.77 L361.43,89.07 L361.66,88.38 L361.90,87.71 L362.14,87.04 L362.37,86.40 L362.61,85.76 L362.84,85.14 L363.08,84.53 L363.31,83.94 L363.55,83.36 L363.79,82.80 L364.02,82.25 L364.26,81.71 L364.49,81.19 L364.73,80.69 L364.96,80.20 L365.19,79.73 L365.43,79.27 L365.66,78.83 L365.90,78.41 L366.13,78.00 L366.37,77.62 L366.60,77.24 L366.83,76.89 L367.07,76.55 L367.30,76.23 L367.53,75.93 L367.77,75.64 L368.00,75.37 L368.23,75.12 L368.47,74.89 L368.70,74.68 L368.93,74.48 L369.16,74.31 L369.40,74.15 L369.63,74.01 L369.86,73.89 L370.09,73.78 L370.32,73.70 L370.56,73.63 L370.79,73.59 L371.02,73.56 L371.25,73.55 L371.48,73.56 L371.71,73.59 L371.94,73.63 L372.18,73.70 L372.41,73.78 L372.64,73.89 L372.87,74.01 L373.10,74.15 L373.34,74.31 L373.57,74.48 L373.80,74.68 L374.03,74.89 L374.27,75.12 L374.50,75.37 L374.73,75.64 L374.97,75.93 L375.20,76.23 L375.43,76.55 L375.67,76.89 L375.90,77.24 L376.13,77.62 L376.37,78.00 L376.60,78.41 L376.84,78.83 L377.07,79.27 L377.31,79.73 L377.54,80.20 L377.77,80.69 L378.01,81.19 L378.24,81.71 L378.48,82.25 L378.71,82.80 L378.95,83.36 L379.19,83.94 L379.42,84.53 L379.66,85.14 L379.89,85.76 L380.13,86.40 L380.36,87.04 L380.60,87.71 L380.84,88.38 L381.07,89.07 L381.31,89.77 L381.55,90.48 L381.78,91.20 L382.02,91.93 L382.25,92.68 L382.49,93.44 L382.73,94.20 L382.97,94.98 L383.20,95.77 L383.44,96.57 L383.68,97.37 L383.91,98.19 L384.15,99.01 L384.39,99.85 L384.63,100.69 L384.86,101.54 L385.10,102.39 L385.60,104.20 L386.09,106.04 L386.59,107.90 L387.08,109.79 L387.58,111.69 L388.07,113.62 L388.57,115.55 L389.06,117.51 L389.55,119.47 L390.05,121.43 L390.54,123.41 L391.03,125.38 L391.52,127.35 L392.02,129.32 L392.51,131.29 L393.00,133.24 L393.49,135.19 L393.97,137.13 L394.46,139.05 L394.95,140.95 L395.43,142.84 L395.92,144.71 L396.40,146.55 L396.88,148.38 L397.36,150.18 L397.84,151.95 L398.32,153.69 L398.80,155.41 L399.27,157.10 L399.75,158.76 L400.23,160.38 L400.70,161.98 L401.18,163.54 L401.66,165.07 L402.13,166.56 L402.61,168.01 L403.09,169.44 L403.56,170.82 L404.04,172.17 L404.52,173.49 L405.00,174.77 L405.48,176.01 L405.96,177.22 L406.45,178.38 L406.93,179.52 L407.42,180.62 L407.90,181.68 L408.39,182.71 L408.89,183.70 L409.38,184.66 L409.87,185.58 L410.37,186.47 L410.87,187.33 L411.37,188.16 L411.88,188.95 L412.38,189.71 L412.89,190.45 L413.39,191.15 L413.90,191.82 L414.41,192.47 L414.92,193.09 L415.43,193.68 L415.94,194.24 L416.45,194.78 L416.96,195.30 L417.47,195.79 L417.98,196.26 L418.48,196.70 L418.99,197.13 L419.50,197.53 L420.00,197.91 L420.51,198.28 L421.01,198.62 L421.51,198.95 L422.00,199.26 L422.50,199.55 L422.99,199.83 L423.48,200.09 L423.97,200.34 L424.45,200.58 L424.93,200.80 L425.41,201.01 L425.88,201.20 L426.35,201.39 L426.82,201.56 L427.28,201.73 L427.74,201.88 L428.19,202.02 L428.64,202.16 L429.08,202.28 L429.52,202.40 L429.95,202.51 L430.39,202.62 L430.82,202.72 L431.24,202.81 L431.67,202.89 L432.09,202.97 L432.51,203.04 L432.92,203.11 L433.33,203.18 L433.74,203.24 L434.15,203.29 L434.55,203.34 L434.96,203.39 L435.37,203.44 L435.78,203.48 L436.18,203.52 L436.59,203.55 L437.00,203.58 L437.40,203.61 L437.81,203.64 L438.22,203.67 L438.63,203.69 L439.03,203.71 L439.44,203.73 L439.85,203.75 L440.25,203.77 L440.66,203.78 L441.07,203.80" stroke="#b800ff" stroke-width="3.2"/>
<path d="M301.14,203.80 L301.58,203.78 L302.01,203.77 L302.45,203.75 L302.89,203.73 L303.33,203.71 L303.76,203.69 L304.20,203.67 L304.64,203.64 L305.08,203.61 L305.51,203.58 L305.95,203.55 L306.39,203.52 L306.83,203.48 L307.26,203.44 L307.70,203.39 L308.14,203.34 L308.58,203.29 L309.01,203.24 L309.45,203.18 L309.89,203.11 L310.34,203.04 L310.79,202.97 L311.24,202.89 L311.70,202.81 L312.16,202.72 L312.62,202.62 L313.09,202.51 L313.56,202.40 L314.03,202.28 L314.50,202.16 L314.98,202.02 L315.46,201.88 L315.94,201.73 L316.42,201.56 L316.91,201.39 L317.39,201.20 L317.88,201.01 L318.37,200.80 L318.86,200.58 L319.36,200.34 L319.85,200.09 L320.35,199.83 L320.85,199.55 L321.34,199.26 L321.84,198.95 L322.34,198.62 L322.84,198.28 L323.34,197.91 L323.84,197.53 L324.35,197.13 L324.85,196.70 L325.35,196.26 L325.85,195.79 L326.35,195.30 L326.85,194.78 L327.35,194.24 L327.86,193.68 L328.36,193.09 L328.85,192.47 L329.35,191.82 L329.85,191.15 L330.35,190.45 L330.84,189.71 L331.34,188.95 L331.83,188.16 L332.32,187.33 L332.81,186.47 L333.30,185.58 L333.78,184.66 L334.27,183.70 L334.75,182.71 L335.23,181.68 L335.71,180.62 L336.19,179.52 L336.67,178.38 L337.14,177.22 L337.62,176.01 L338.09,174.77 L338.57,173.49 L339.04,172.17 L339.51,170.82 L339.99,169.44 L340.46,168.01 L340.93,166.56 L341.41,165.07 L341.88,163.54 L342.35,161.98 L342.83,160.38 L343.30,158.76 L343.78,157.10 L344.26,155.41 L344.73,153.69 L345.21,151.95 L345.69,150.18 L346.17,148.38 L346.66,146.55 L347.14,144.71 L347.63,142.84 L348.11,140.95 L348.60,139.05 L349.09,137.13 L349.58,135.19 L350.08,133.24 L350.57,131.29 L351.06,129.32 L351.55,127.35 L352.05,125.38 L352.54,123.41 L353.03,121.43 L353.53,119.47 L354.02,117.51 L354.51,115.55 L355.00,113.62 L355.50,111.69 L355.99,109.79 L356.48,107.90 L356.96,106.04 L357.45,104.20 L357.94,102.39 L358.17,101.54 L358.40,100.69 L358.63,99.85 L358.86,99.01 L359.09,98.19 L359.32,97.37 L359.55,96.57 L359.78,95.77 L360.01,94.98 L360.24,94.20 L360.47,93.44 L360.70,92.68 L360.92,91.93 L361.15,91.20 L361.38,90.48 L361.60,89.77 L361.83,89.07 L362.05,88.38 L362.28,87.71 L362.50,87.04 L362.73,86.40 L362.95,85.76 L363.18,85.14 L363.40,84.53 L363.63,83.94 L363.85,83.36 L364.07,82.80 L364.30,82.25 L364.52,81.71 L364.74,81.19 L364.97,80.69 L365.19,80.20 L365.41,79.73 L365.64,79.27 L365.86,78.83 L366.08,78.41 L366.31,78.00 L366.53,77.62 L366.75,77.24 L366.98,76.89 L367.20,76.55 L367.42,76.23 L367.65,75.93 L367.87,75.64 L368.09,75.37 L368.32,75.12 L368.54,74.89 L368.77,74.68 L368.99,74.48 L369.22,74.31 L369.44,74.15 L369.67,74.01 L369.89,73.89 L370.12,73.78 L370.34,73.70 L370.57,73.63 L370.80,73.59 L371.02,73.56 L371.25,73.55 L371.48,73.56 L371.70,73.59 L371.93,73.63 L372.16,73.70 L372.38,73.78 L372.61,73.89 L372.83,74.01 L373.06,74.15 L373.28,74.31 L373.51,74.48 L373.73,74.68 L373.96,74.89 L374.18,75.12 L374.41,75.37 L374.63,75.64 L374.85,75.93 L375.08,76.23 L375.30,76.55 L375.52,76.89 L375.75,77.24 L375.97,77.62 L376.19,78.00 L376.42,78.41 L376.64,78.83 L376.86,79.27 L377.09,79.73 L377.31,80.20 L377.53,80.69 L377.76,81.19 L377.98,81.71 L378.20,82.25 L378.43,82.80 L378.65,83.36 L378.87,83.94 L379.10,84.53 L379.32,85.14 L379.55,85.76 L379.77,86.40 L380.00,87.04 L380.22,87.71 L380.45,88.38 L380.67,89.07 L380.90,89.77 L381.12,90.48 L381.35,91.20 L381.58,91.93 L381.80,92.68 L382.03,93.44 L382.26,94.20 L382.49,94.98 L382.72,95.77 L382.95,96.57 L383.18,97.37 L383.41,98.19 L383.64,99.01 L383.87,99.85 L384.10,100.69 L384.33,101.54 L384.56,102.39 L385.05,104.20 L385.54,106.04 L386.02,107.90 L386.51,109.79 L387.00,111.69 L387.50,113.62 L387.99,115.55 L388.48,117.51 L388.97,119.47 L389.47,121.43 L389.96,123.41 L390.45,125.38 L390.95,127.35 L391.44,129.32 L391.93,131.29 L392.42,133.24 L392.92,135.19 L393.41,137.13 L393.90,139.05 L394.39,140.95 L394.87,142.84 L395.36,144.71 L395.84,146.55 L396.33,148.38 L396.81,150.18 L397.29,151.95 L397.77,153.69 L398.24,155.41 L398.72,157.10 L399.20,158.76 L399.67,160.38 L400.15,161.98 L400.62,163.54 L401.09,165.07 L401.57,166.56 L402.04,168.01 L402.51,169.44 L402.99,170.82 L403.46,172.17 L403.93,173.49 L404.41,174.77 L404.88,176.01 L405.36,177.22 L405.83,178.38 L406.31,179.52 L406.79,180.62 L407.27,181.68 L407.75,182.71 L408.23,183.70 L408.72,184.66 L409.20,185.58 L409.69,186.47 L410.18,187.33 L410.67,188.16 L411.16,188.95 L411.66,189.71 L412.15,190.45 L412.65,191.15 L413.15,191.82 L413.65,192.47 L414.14,193.09 L414.64,193.68 L415.15,194.24 L415.65,194.78 L416.15,195.30 L416.65,195.79 L417.15,196.26 L417.65,196.70 L418.15,197.13 L418.66,197.53 L419.16,197.91 L419.66,198.28 L420.16,198.62 L420.66,198.95 L421.16,199.26 L421.65,199.55 L422.15,199.83 L422.65,200.09 L423.14,200.34 L423.64,200.58 L424.13,200.80 L424.62,201.01 L425.11,201.20 L425.59,201.39 L426.08,201.56 L426.56,201.73 L427.04,201.88 L427.52,202.02 L428.00,202.16 L428.47,202.28 L428.94,202.40 L429.41,202.51 L429.88,202.62 L430.34,202.72 L430.80,202.81 L431.26,202.89 L431.71,202.97 L432.16,203.04 L432.61,203.11 L433.05,203.18 L433.49,203.24 L433.92,203.29 L434.36,203.34 L434.80,203.39 L435.24,203.44 L435.67,203.48 L436.11,203.52 L436.55,203.55 L436.99,203.58 L437.42,203.61 L437.86,203.64 L438.30,203.67 L438.74,203.69 L439.17,203.71 L439.61,203.73 L440.05,203.75 L440.49,203.77 L440.92,203.78 L441.36,203.80" stroke="#ff0000" stroke-width="3.2"/>
<path d="M305.36,203.42 L306.15,203.34 L306.93,203.26 L307.72,203.16 L308.50,203.06 L309.28,202.94 L310.07,202.81 L310.85,202.66 L311.64,202.50 L312.42,202.32 L313.21,202.12 L313.99,201.90 L314.77,201.65 L315.56,201.38 L316.34,201.08 L317.13,200.76 L317.91,200.40 L318.70,200.00 L319.48,199.57 L320.27,199.10 L321.05,198.59 L321.83,198.03 L322.62,197.42 L323.40,196.77 L324.19,196.06 L324.97,195.29 L325.76,194.46 L326.54,193.58 L327.32,192.62 L328.11,191.60 L328.89,190.50 L329.68,189.33 L330.46,188.09 L331.25,186.76 L332.03,185.36 L332.82,183.86 L333.60,182.29 L334.38,180.62 L335.17,178.87 L335.95,177.03 L336.74,175.09 L337.52,173.07 L338.31,170.96 L339.09,168.75 L339.88,166.46 L340.66,164.08 L341.44,161.62 L342.23,159.07 L343.01,156.44 L343.80,153.74 L344.58,150.97 L345.37,148.13 L346.15,145.23 L346.93,142.27 L347.72,139.27 L348.50,136.23 L349.29,133.15 L350.07,130.05 L350.86,126.94 L351.64,123.82 L352.43,120.70 L353.21,117.59 L353.99,114.51 L354.78,111.47 L355.56,108.46 L356.35,105.52 L357.13,102.64 L357.92,99.84 L358.70,97.13 L359.48,94.52 L360.27,92.02 L361.05,89.64 L361.84,87.39 L362.62,85.28 L363.41,83.32 L364.19,81.52 L364.98,79.89 L365.76,78.43 L366.54,77.16 L367.33,76.07 L368.11,75.17 L368.90,74.46 L369.68,73.96 L370.47,73.65 L371.25,73.55 L372.03,73.65 L372.82,73.96 L373.60,74.46 L374.39,75.17 L375.17,76.07 L375.96,77.16 L376.74,78.43 L377.52,79.89 L378.31,81.52 L379.09,83.32 L379.88,85.28 L380.66,87.39 L381.45,89.64 L382.23,92.02 L383.02,94.52 L383.80,97.13 L384.58,99.84 L385.37,102.64 L386.15,105.52 L386.94,108.46 L387.72,111.47 L388.51,114.51 L389.29,117.59 L390.07,120.70 L390.86,123.82 L391.64,126.94 L392.43,130.05 L393.21,133.15 L394.00,136.23 L394.78,139.27 L395.57,142.27 L396.35,145.23 L397.13,148.13 L397.92,150.97 L398.70,153.74 L399.49,156.44 L400.27,159.07 L401.06,161.62 L401.84,164.08 L402.62,166.46 L403.41,168.75 L404.19,170.96 L404.98,173.07 L405.76,175.09 L406.55,177.03 L407.33,178.87 L408.12,180.62 L408.90,182.29 L409.68,183.86 L410.47,185.36 L411.25,186.76 L412.04,188.09 L412.82,189.33 L413.61,190.50 L414.39,191.60 L415.18,192.62 L415.96,193.58 L416.74,194.46 L417.53,195.29 L418.31,196.06 L419.10,196.77 L419.88,197.42 L420.67,198.03 L421.45,198.59 L422.23,199.10 L423.02,199.57 L423.80,200.00 L424.59,200.40 L425.37,200.76 L426.16,201.08 L426.94,201.38 L427.73,201.65 L428.51,201.90 L429.29,202.12 L430.08,202.32 L430.86,202.50 L431.65,202.66 L432.43,202.81 L433.22,202.94 L434.00,203.06 L434.78,203.16 L435.57,203.26 L436.35,203.34 L437.14,203.42" stroke="#b9b9b9" stroke-width="2.2" stroke-dasharray="9.9 5" stroke-dashoffset="6.62"/>
<path d="M305.36,155.01 L306.15,153.86 L306.93,152.70 L307.72,151.53 L308.50,150.34 L309.28,149.14 L310.07,147.94 L310.85,146.72 L311.64,145.49 L312.42,144.25 L313.21,143.00 L313.99,141.74 L314.77,140.48 L315.56,139.20 L316.34,137.92 L317.13,136.64 L317.91,135.34 L318.70,134.05 L319.48,132.74 L320.27,131.43 L321.05,130.12 L321.83,128.81 L322.62,127.49 L323.40,126.18 L324.19,124.86 L324.97,123.54 L325.76,122.22 L326.54,120.91 L327.32,119.59 L328.11,118.28 L328.89,116.98 L329.68,115.67 L330.46,114.38 L331.25,113.09 L332.03,111.80 L332.82,110.53 L333.60,109.26 L334.38,108.00 L335.17,106.76 L335.95,105.52 L336.74,104.29 L337.52,103.08 L338.31,101.89 L339.09,100.70 L339.88,99.53 L340.66,98.38 L341.44,97.25 L342.23,96.13 L343.01,95.03 L343.80,93.95 L344.58,92.89 L345.37,91.85 L346.15,90.84 L346.93,89.84 L347.72,88.87 L348.50,87.93 L349.29,87.00 L350.07,86.11 L350.86,85.24 L351.64,84.39 L352.43,83.58 L353.21,82.79 L353.99,82.03 L354.78,81.30 L355.56,80.60 L356.35,79.93 L357.13,79.29 L357.92,78.68 L358.70,78.10 L359.48,77.56 L360.27,77.05 L361.05,76.58 L361.84,76.13 L362.62,75.72 L363.41,75.35 L364.19,75.01 L364.98,74.70 L365.76,74.43 L366.54,74.20 L367.33,74.00 L368.11,73.84 L368.90,73.71 L369.68,73.62 L370.47,73.57 L371.25,73.55 L372.03,73.57 L372.82,73.62 L373.60,73.71 L374.39,73.84 L375.17,74.00 L375.96,74.20 L376.74,74.43 L377.52,74.70 L378.31,75.01 L379.09,75.35 L379.88,75.72 L380.66,76.13 L381.45,76.58 L382.23,77.05 L383.02,77.56 L383.80,78.10 L384.58,78.68 L385.37,79.29 L386.15,79.93 L386.94,80.60 L387.72,81.30 L388.51,82.03 L389.29,82.79 L390.07,83.58 L390.86,84.39 L391.64,85.24 L392.43,86.11 L393.21,87.00 L394.00,87.93 L394.78,88.87 L395.57,89.84 L396.35,90.84 L397.13,91.85 L397.92,92.89 L398.70,93.95 L399.49,95.03 L400.27,96.13 L401.06,97.25 L401.84,98.38 L402.62,99.53 L403.41,100.70 L404.19,101.89 L404.98,103.08 L405.76,104.29 L406.55,105.52 L407.33,106.76 L408.12,108.00 L408.90,109.26 L409.68,110.53 L410.47,111.80 L411.25,113.09 L412.04,114.38 L412.82,115.67 L413.61,116.98 L414.39,118.28 L415.18,119.59 L415.96,120.91 L416.74,122.22 L417.53,123.54 L418.31,124.86 L419.10,126.18 L419.88,127.49 L420.67,128.81 L421.45,130.12 L422.23,131.43 L423.02,132.74 L423.80,134.05 L424.59,135.34 L425.37,136.64 L426.16,137.92 L426.94,139.20 L427.73,140.48 L428.51,141.74 L429.29,143.00 L430.08,144.25 L430.86,145.49 L431.65,146.72 L432.43,147.94 L433.22,149.14 L434.00,150.34 L434.78,151.53 L435.57,152.70 L436.35,153.86 L437.14,155.01" stroke="#94941a" stroke-width="1.5" stroke-dasharray="7.7 7.2 2.7 7"/>
</g>
<text transform="translate(62.36,219.80) scale(1,1.030)" font-size="17.50" text-anchor="middle">-10</text>
<text transform="translate(88.50,219.80) scale(1,1.030)" font-size="17.50" text-anchor="middle">-5</text>
<text transform="translate(114.65,219.80) scale(1,1.030)" font-size="17.50" text-anchor="middle">0</text>
<text transform="translate(140.80,219.80) scale(1,1.030)" font-size="17.50" text-anchor="middle">5</text>
<text transform="translate(166.94,219.80) scale(1,1.030)" font-size="17.50" text-anchor="middle">10</text>
<text transform="translate(190.86,219.80) scale(1,1.030)" font-size="17.50" text-anchor="middle">-10</text>
<text transform="translate(217.00,219.80) scale(1,1.030)" font-size="17.50" text-anchor="middle">-5</text>
<text transform="translate(243.15,219.80) scale(1,1.030)" font-size="17.50" text-anchor="middle">0</text>
<text transform="translate(269.30,219.80) scale(1,1.030)" font-size="17.50" text-anchor="middle">5</text>
<text transform="translate(295.44,219.80) scale(1,1.030)" font-size="17.50" text-anchor="middle">10</text>
<text transform="translate(319.36,219.80) scale(1,1.030)" font-size="17.50" text-anchor="middle">-10</text>
<text transform="translate(345.50,219.80) scale(1,1.030)" font-size="17.50" text-anchor="middle">-5</text>
<text transform="translate(371.65,219.80) scale(1,1.030)" font-size="17.50" text-anchor="middle">0</text>
<text transform="translate(397.80,219.80) scale(1,1.030)" font-size="17.50" text-anchor="middle">5</text>
<text transform="translate(423.94,219.80) scale(1,1.030)" font-size="17.50" text-anchor="middle">10</text>
<text transform="translate(46.00,210.15) scale(1,1.030)" font-size="17.50" text-anchor="end">0</text>
<text transform="translate(46.00,144.95) scale(1,1.030)" font-size="17.50" text-anchor="end">0.5</text>
<text transform="translate(46.00,79.75) scale(1,1.030)" font-size="17.50" text-anchor="end">1</text>
<text transform="translate(114.45,241.30) scale(1,1.030)" font-size="17.50" text-anchor="middle">r/<tspan font-style="italic" font-size="19">ℓ</tspan><tspan font-size="13.5" dy="4.8">HO</tspan></text>
<text transform="translate(242.95,241.30) scale(1,1.030)" font-size="17.50" text-anchor="middle">r/<tspan font-style="italic" font-size="19">ℓ</tspan><tspan font-size="13.5" dy="4.8">HO</tspan></text>
<text transform="translate(371.45,241.30) scale(1,1.030)" font-size="17.50" text-anchor="middle">r/<tspan font-style="italic" font-size="19">ℓ</tspan><tspan font-size="13.5" dy="4.8">HO</tspan></text>
<text transform="translate(17.90,129.40) rotate(-90) scale(1.090,1)" font-size="17.50" text-anchor="middle">I(r)/I(0)</text>
<text transform="translate(54.10,64.50) scale(1,1.030)" font-size="17.50" text-anchor="start">(a) σ<tspan font-size="13.5" dy="4.3" dx="1.0">P</tspan><tspan dy="-4.3" dx="0.3">=1</tspan><tspan font-style="italic" font-size="19" dx="-0.9">ℓ</tspan><tspan font-size="13.5" dy="3.2" dx="-0.6">HO</tspan></text>
<text transform="translate(182.60,64.50) scale(1,1.030)" font-size="17.50" text-anchor="start">(b) σ<tspan font-size="13.5" dy="4.3" dx="1.0">P</tspan><tspan dy="-4.3" dx="0.3">=5</tspan><tspan font-style="italic" font-size="19" dx="-0.9">ℓ</tspan><tspan font-size="13.5" dy="3.2" dx="-0.6">HO</tspan></text>
<text transform="translate(311.10,64.50) scale(1,1.030)" font-size="17.50" text-anchor="start">(c) σ<tspan font-size="13.5" dy="4.3" dx="1.0">P</tspan><tspan dy="-4.3" dx="0.3">=9</tspan><tspan font-style="italic" font-size="19" dx="-0.9">ℓ</tspan><tspan font-size="13.5" dy="3.2" dx="-0.6">HO</tspan></text>
<rect x="51.0" y="0.5" width="383.0" height="41.9" fill="#fff" stroke="#000" stroke-width="1.00"/>
<path d="M62.80 12.05H92.60" stroke="#00ffff" stroke-width="2.90" fill="none"/>
<path d="M62.80 31.60H92.60" stroke="#0a5cff" stroke-width="2.90" fill="none"/>
<path d="M185.50 12.10H215.20" stroke="#b800ff" stroke-width="2.90" fill="none"/>
<path d="M185.50 31.60H215.20" stroke="#ff0000" stroke-width="2.90" fill="none"/>
<path d="M308.20 12.15H338.30" stroke="#b9b9b9" stroke-width="2.00" stroke-dasharray="9.9 5" fill="none"/>
<path d="M308.20 31.85H338.30" stroke="#94941a" stroke-width="1.50" stroke-dasharray="7.7 7.2 2.7 7" fill="none"/>
<text transform="translate(102.50,19.55) scale(1,1.030)" font-size="17.80" text-anchor="start">η=10<tspan font-size="14.2" dy="-7.50" dx="0.3">-2</tspan></text>
<text transform="translate(102.50,39.05) scale(1,1.030)" font-size="17.80" text-anchor="start">η=10<tspan font-size="14.2" dy="-6.80" dx="0.3">-3</tspan></text>
<text transform="translate(225.50,19.55) scale(1,1.030)" font-size="17.80" text-anchor="start">η=10<tspan font-size="14.2" dy="-7.50" dx="0.3">-4</tspan></text>
<text transform="translate(225.50,39.05) scale(1,1.030)" font-size="17.80" text-anchor="start">η=10<tspan font-size="14.2" dy="-6.80" dx="0.3">-5</tspan></text>
<text transform="translate(349.00,18.25) scale(1,1.030)" font-size="17.15" text-anchor="start">Thermal</text>
<text transform="translate(349.00,37.75) scale(1,1.030)" font-size="17.30" text-anchor="start">Pump</text>
</svg></body></html>
